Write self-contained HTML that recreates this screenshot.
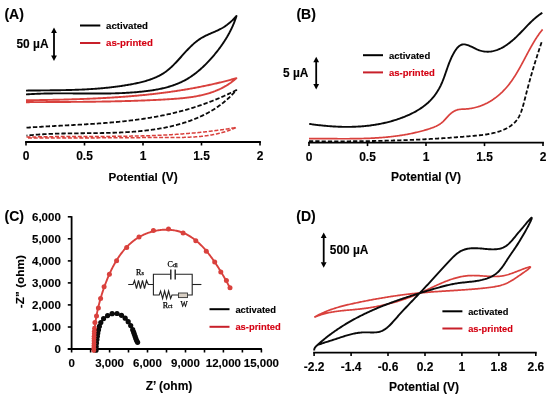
<!DOCTYPE html>
<html><head><meta charset="utf-8"><style>
html,body{margin:0;padding:0;background:#fff;}
body{width:550px;height:398px;overflow:hidden;font-family:"Liberation Sans",sans-serif;}
svg{display:block;will-change:transform;}
</style></head><body>
<svg width="550" height="398" viewBox="0 0 550 398">
<rect width="550" height="398" fill="#fff"/>
<path d="M26.00,90.60 L27.02,90.58 L28.04,90.57 L29.07,90.56 L30.09,90.54 L31.11,90.53 L32.12,90.52 L33.14,90.50 L34.16,90.49 L35.18,90.48 L36.19,90.47 L37.21,90.46 L38.22,90.45 L39.24,90.44 L40.25,90.43 L41.26,90.42 L42.27,90.41 L43.29,90.40 L44.30,90.39 L45.31,90.38 L46.32,90.37 L47.33,90.36 L48.34,90.35 L49.34,90.34 L50.35,90.32 L51.36,90.31 L52.36,90.30 L53.37,90.29 L54.38,90.28 L55.38,90.26 L56.39,90.25 L57.39,90.23 L58.39,90.22 L59.40,90.20 L60.40,90.19 L61.40,90.17 L62.41,90.15 L63.41,90.13 L64.41,90.11 L65.41,90.09 L66.41,90.07 L67.41,90.04 L68.41,90.02 L69.41,89.99 L70.41,89.97 L71.41,89.94 L72.41,89.91 L73.41,89.88 L74.41,89.85 L75.41,89.81 L76.41,89.78 L77.41,89.74 L78.41,89.70 L79.41,89.66 L80.40,89.62 L81.40,89.58 L82.40,89.53 L83.40,89.49 L84.39,89.44 L85.39,89.39 L86.39,89.34 L87.39,89.28 L88.39,89.23 L89.38,89.17 L90.38,89.11 L91.38,89.05 L92.38,88.98 L93.37,88.91 L94.37,88.84 L95.37,88.77 L96.37,88.70 L97.36,88.62 L98.36,88.54 L99.36,88.46 L100.36,88.38 L101.36,88.29 L102.35,88.20 L103.35,88.11 L104.35,88.01 L105.35,87.92 L106.35,87.82 L107.35,87.71 L108.35,87.61 L109.35,87.50 L110.35,87.38 L111.35,87.27 L112.35,87.15 L113.35,87.03 L114.35,86.90 L115.35,86.78 L116.35,86.64 L117.36,86.51 L118.36,86.37 L119.36,86.23 L120.37,86.09 L121.37,85.94 L122.37,85.79 L123.38,85.63 L124.38,85.47 L125.39,85.31 L126.39,85.14 L127.40,84.97 L128.41,84.80 L129.41,84.62 L130.42,84.44 L131.43,84.25 L132.44,84.06 L133.45,83.86 L134.46,83.66 L135.46,83.46 L136.47,83.25 L137.47,83.03 L138.48,82.81 L139.48,82.58 L140.48,82.34 L141.48,82.10 L142.47,81.85 L143.46,81.59 L144.45,81.32 L145.43,81.04 L146.41,80.76 L147.38,80.46 L148.35,80.15 L149.31,79.84 L150.27,79.51 L151.22,79.17 L152.16,78.82 L153.10,78.46 L154.03,78.09 L154.96,77.70 L155.87,77.31 L156.78,76.90 L157.68,76.47 L158.57,76.03 L159.45,75.58 L160.33,75.11 L161.19,74.63 L162.04,74.13 L162.88,73.62 L163.71,73.09 L164.53,72.54 L165.34,71.98 L166.14,71.40 L166.93,70.81 L167.70,70.20 L168.47,69.58 L169.23,68.94 L169.98,68.29 L170.72,67.63 L171.45,66.96 L172.18,66.27 L172.90,65.58 L173.61,64.88 L174.32,64.17 L175.02,63.45 L175.72,62.72 L176.41,61.99 L177.10,61.25 L177.79,60.51 L178.47,59.76 L179.15,59.01 L179.83,58.26 L180.51,57.50 L181.19,56.75 L181.86,55.99 L182.54,55.23 L183.22,54.47 L183.90,53.72 L184.58,52.96 L185.26,52.21 L185.94,51.46 L186.63,50.72 L187.32,49.98 L188.02,49.25 L188.72,48.52 L189.42,47.80 L190.13,47.09 L190.85,46.38 L191.57,45.69 L192.30,45.00 L193.04,44.33 L193.79,43.66 L194.54,43.01 L195.30,42.37 L196.08,41.74 L196.86,41.13 L197.65,40.54 L198.46,39.95 L199.27,39.39 L200.10,38.84 L200.94,38.31 L201.79,37.79 L202.65,37.30 L203.53,36.82 L204.42,36.35 L205.31,35.90 L206.22,35.46 L207.13,35.03 L208.05,34.61 L208.97,34.20 L209.90,33.79 L210.83,33.39 L211.76,32.98 L212.70,32.58 L213.63,32.18 L214.56,31.77 L215.49,31.36 L216.42,30.95 L217.34,30.52 L218.25,30.09 L219.16,29.65 L220.07,29.19 L220.96,28.72 L221.84,28.24 L222.71,27.74 L223.57,27.22 L224.42,26.68 L225.25,26.13 L226.08,25.55 L226.89,24.97 L227.69,24.36 L228.48,23.74 L229.26,23.10 L230.03,22.45 L230.79,21.79 L231.54,21.11 L232.28,20.42 L233.00,19.71 L233.72,18.99 L234.43,18.26 L235.13,17.52 L235.82,16.76 L236.50,16.00 L236.19,16.95 L235.87,17.90 L235.55,18.85 L235.21,19.79 L234.86,20.73 L234.51,21.66 L234.14,22.59 L233.76,23.52 L233.38,24.44 L232.98,25.36 L232.58,26.27 L232.17,27.18 L231.74,28.09 L231.31,28.99 L230.87,29.89 L230.43,30.78 L229.97,31.67 L229.51,32.56 L229.03,33.44 L228.55,34.32 L228.06,35.19 L227.56,36.06 L227.06,36.93 L226.54,37.79 L226.02,38.65 L225.49,39.51 L224.96,40.36 L224.41,41.21 L223.86,42.05 L223.31,42.89 L222.74,43.73 L222.17,44.56 L221.59,45.39 L221.00,46.22 L220.41,47.04 L219.81,47.85 L219.21,48.67 L218.59,49.48 L217.98,50.28 L217.35,51.09 L216.72,51.88 L216.09,52.68 L215.44,53.47 L214.79,54.26 L214.14,55.04 L213.48,55.82 L212.82,56.60 L212.15,57.37 L211.47,58.14 L210.79,58.90 L210.11,59.66 L209.41,60.42 L208.72,61.17 L208.01,61.91 L207.31,62.65 L206.59,63.38 L205.87,64.11 L205.15,64.83 L204.42,65.55 L203.68,66.25 L202.94,66.95 L202.20,67.65 L201.44,68.33 L200.69,69.01 L199.92,69.68 L199.15,70.34 L198.38,71.00 L197.60,71.64 L196.81,72.28 L196.02,72.90 L195.22,73.52 L194.42,74.13 L193.61,74.72 L192.80,75.31 L191.97,75.89 L191.15,76.45 L190.32,77.01 L189.48,77.55 L188.63,78.08 L187.78,78.60 L186.93,79.11 L186.06,79.60 L185.20,80.08 L184.32,80.55 L183.44,81.01 L182.56,81.45 L181.67,81.89 L180.77,82.31 L179.87,82.71 L178.96,83.11 L178.05,83.50 L177.13,83.87 L176.21,84.23 L175.28,84.59 L174.35,84.93 L173.42,85.26 L172.48,85.58 L171.54,85.89 L170.59,86.19 L169.64,86.49 L168.68,86.77 L167.72,87.04 L166.76,87.31 L165.79,87.56 L164.82,87.81 L163.85,88.05 L162.88,88.28 L161.90,88.50 L160.92,88.72 L159.94,88.93 L158.95,89.13 L157.96,89.32 L156.97,89.51 L155.98,89.69 L154.99,89.86 L153.99,90.03 L152.99,90.19 L151.99,90.34 L150.99,90.49 L149.99,90.64 L148.99,90.77 L147.98,90.91 L146.98,91.04 L145.97,91.16 L144.97,91.28 L143.96,91.40 L142.95,91.51 L141.95,91.61 L140.94,91.72 L139.93,91.82 L138.92,91.91 L137.92,92.01 L136.91,92.10 L135.90,92.18 L134.89,92.27 L133.88,92.35 L132.88,92.42 L131.87,92.50 L130.86,92.57 L129.85,92.64 L128.84,92.70 L127.83,92.76 L126.83,92.82 L125.82,92.88 L124.81,92.93 L123.80,92.98 L122.79,93.03 L121.78,93.08 L120.77,93.12 L119.76,93.16 L118.76,93.20 L117.75,93.24 L116.74,93.27 L115.73,93.30 L114.72,93.33 L113.71,93.36 L112.70,93.38 L111.69,93.41 L110.68,93.43 L109.67,93.45 L108.66,93.47 L107.65,93.48 L106.65,93.50 L105.64,93.51 L104.63,93.52 L103.62,93.53 L102.61,93.54 L101.60,93.55 L100.59,93.56 L99.58,93.56 L98.57,93.56 L97.56,93.57 L96.55,93.57 L95.54,93.57 L94.53,93.57 L93.52,93.57 L92.51,93.56 L91.50,93.56 L90.49,93.56 L89.48,93.55 L88.47,93.55 L87.47,93.54 L86.46,93.53 L85.45,93.53 L84.44,93.52 L83.43,93.51 L82.42,93.51 L81.41,93.50 L80.40,93.49 L79.39,93.48 L78.38,93.47 L77.37,93.46 L76.36,93.46 L75.35,93.45 L74.35,93.44 L73.34,93.43 L72.33,93.42 L71.32,93.42 L70.31,93.41 L69.30,93.40 L68.29,93.40 L67.28,93.39 L66.27,93.39 L65.27,93.39 L64.26,93.38 L63.25,93.38 L62.24,93.38 L61.23,93.38 L60.22,93.38 L59.22,93.38 L58.21,93.38 L57.20,93.39 L56.19,93.39 L55.18,93.40 L54.18,93.41 L53.17,93.42 L52.16,93.43 L51.15,93.44 L50.15,93.45 L49.14,93.47 L48.13,93.48 L47.12,93.50 L46.12,93.52 L45.11,93.55 L44.10,93.57 L43.10,93.60 L42.09,93.62 L41.08,93.66 L40.08,93.69 L39.07,93.72 L38.06,93.76 L37.06,93.80 L36.05,93.84 L35.05,93.88 L34.04,93.93 L33.04,93.98 L32.03,94.03 L31.02,94.09 L30.02,94.14 L29.01,94.20 L28.01,94.27 L27.00,94.33 L26.00,94.40" fill="none" stroke="#0a0a0a" stroke-width="1.9" stroke-linejoin="round"/>
<path d="M26.00,100.30 L27.00,100.28 L28.00,100.27 L29.01,100.25 L30.01,100.24 L31.01,100.22 L32.01,100.20 L33.02,100.19 L34.02,100.17 L35.02,100.16 L36.03,100.14 L37.03,100.12 L38.03,100.10 L39.04,100.09 L40.04,100.07 L41.05,100.05 L42.05,100.03 L43.05,100.02 L44.06,100.00 L45.06,99.98 L46.07,99.96 L47.07,99.94 L48.08,99.92 L49.08,99.90 L50.09,99.88 L51.09,99.86 L52.10,99.84 L53.10,99.82 L54.11,99.79 L55.11,99.77 L56.12,99.75 L57.12,99.73 L58.13,99.70 L59.13,99.68 L60.14,99.65 L61.15,99.63 L62.15,99.60 L63.16,99.58 L64.16,99.55 L65.17,99.53 L66.17,99.50 L67.18,99.47 L68.19,99.44 L69.19,99.41 L70.20,99.38 L71.21,99.35 L72.21,99.32 L73.22,99.29 L74.22,99.26 L75.23,99.23 L76.24,99.20 L77.24,99.16 L78.25,99.13 L79.26,99.09 L80.26,99.06 L81.27,99.02 L82.27,98.99 L83.28,98.95 L84.29,98.91 L85.29,98.87 L86.30,98.83 L87.31,98.79 L88.31,98.75 L89.32,98.71 L90.33,98.67 L91.33,98.62 L92.34,98.58 L93.34,98.53 L94.35,98.49 L95.36,98.44 L96.36,98.39 L97.37,98.35 L98.37,98.30 L99.38,98.25 L100.39,98.20 L101.39,98.14 L102.40,98.09 L103.40,98.04 L104.41,97.98 L105.41,97.93 L106.42,97.87 L107.42,97.81 L108.43,97.76 L109.44,97.70 L110.44,97.64 L111.45,97.58 L112.45,97.51 L113.46,97.45 L114.46,97.39 L115.46,97.32 L116.47,97.25 L117.47,97.19 L118.48,97.12 L119.48,97.05 L120.49,96.98 L121.49,96.91 L122.49,96.83 L123.50,96.76 L124.50,96.68 L125.51,96.61 L126.51,96.53 L127.51,96.45 L128.52,96.37 L129.52,96.29 L130.52,96.21 L131.52,96.13 L132.53,96.04 L133.53,95.96 L134.53,95.87 L135.53,95.78 L136.54,95.69 L137.54,95.60 L138.54,95.51 L139.54,95.41 L140.54,95.32 L141.54,95.22 L142.54,95.13 L143.54,95.03 L144.55,94.93 L145.55,94.83 L146.55,94.72 L147.55,94.62 L148.55,94.51 L149.55,94.41 L150.55,94.30 L151.54,94.19 L152.54,94.08 L153.54,93.96 L154.54,93.85 L155.54,93.73 L156.54,93.62 L157.54,93.50 L158.53,93.38 L159.53,93.26 L160.53,93.13 L161.53,93.01 L162.52,92.88 L163.52,92.75 L164.51,92.63 L165.51,92.49 L166.51,92.36 L167.50,92.23 L168.50,92.09 L169.49,91.95 L170.49,91.82 L171.48,91.67 L172.48,91.53 L173.47,91.39 L174.46,91.24 L175.46,91.09 L176.45,90.95 L177.44,90.79 L178.44,90.64 L179.43,90.49 L180.42,90.33 L181.41,90.17 L182.40,90.01 L183.40,89.85 L184.39,89.69 L185.38,89.53 L186.37,89.36 L187.36,89.19 L188.35,89.02 L189.34,88.85 L190.33,88.67 L191.31,88.50 L192.30,88.32 L193.29,88.14 L194.28,87.96 L195.27,87.77 L196.25,87.59 L197.24,87.40 L198.23,87.21 L199.21,87.02 L200.20,86.83 L201.18,86.63 L202.17,86.44 L203.15,86.24 L204.14,86.04 L205.12,85.83 L206.11,85.63 L207.09,85.42 L208.07,85.21 L209.05,85.00 L210.04,84.79 L211.02,84.57 L212.00,84.35 L212.98,84.13 L213.96,83.91 L214.94,83.69 L215.92,83.46 L216.90,83.23 L217.88,83.00 L218.86,82.77 L219.84,82.54 L220.81,82.30 L221.79,82.06 L222.77,81.82 L223.74,81.57 L224.72,81.33 L225.70,81.08 L226.67,80.83 L227.65,80.58 L228.62,80.32 L229.59,80.07 L230.57,79.81 L231.54,79.54 L232.51,79.28 L233.49,79.01 L234.46,78.75 L235.43,78.47 L236.40,78.20 L235.62,78.89 L234.84,79.56 L234.05,80.21 L233.25,80.85 L232.45,81.47 L231.63,82.08 L230.82,82.68 L229.99,83.26 L229.17,83.82 L228.33,84.38 L227.49,84.91 L226.64,85.44 L225.79,85.95 L224.93,86.44 L224.07,86.93 L223.20,87.40 L222.32,87.86 L221.44,88.30 L220.56,88.73 L219.67,89.16 L218.78,89.56 L217.88,89.96 L216.97,90.35 L216.06,90.72 L215.15,91.09 L214.23,91.44 L213.31,91.78 L212.38,92.11 L211.45,92.43 L210.52,92.74 L209.58,93.04 L208.64,93.33 L207.69,93.61 L206.74,93.89 L205.79,94.15 L204.83,94.40 L203.87,94.65 L202.91,94.88 L201.94,95.11 L200.97,95.33 L200.00,95.54 L199.02,95.75 L198.04,95.94 L197.06,96.13 L196.08,96.31 L195.09,96.49 L194.10,96.66 L193.11,96.82 L192.12,96.97 L191.12,97.12 L190.12,97.26 L189.12,97.40 L188.12,97.53 L187.12,97.66 L186.11,97.78 L185.11,97.90 L184.10,98.01 L183.09,98.11 L182.08,98.22 L181.07,98.31 L180.06,98.41 L179.04,98.50 L178.03,98.58 L177.01,98.67 L176.00,98.75 L174.98,98.82 L173.96,98.90 L172.95,98.97 L171.93,99.04 L170.91,99.10 L169.89,99.17 L168.87,99.23 L167.86,99.29 L166.84,99.35 L165.82,99.41 L164.80,99.46 L163.79,99.52 L162.77,99.58 L161.76,99.63 L160.74,99.68 L159.72,99.74 L158.71,99.79 L157.70,99.84 L156.68,99.89 L155.67,99.94 L154.66,99.99 L153.64,100.04 L152.63,100.08 L151.62,100.13 L150.61,100.17 L149.60,100.22 L148.59,100.26 L147.58,100.31 L146.57,100.35 L145.56,100.39 L144.55,100.43 L143.54,100.47 L142.53,100.51 L141.52,100.55 L140.51,100.59 L139.50,100.62 L138.50,100.66 L137.49,100.70 L136.48,100.73 L135.47,100.76 L134.47,100.80 L133.46,100.83 L132.46,100.86 L131.45,100.90 L130.44,100.93 L129.44,100.96 L128.43,100.99 L127.43,101.02 L126.43,101.05 L125.42,101.07 L124.42,101.10 L123.41,101.13 L122.41,101.15 L121.41,101.18 L120.40,101.20 L119.40,101.23 L118.40,101.25 L117.39,101.28 L116.39,101.30 L115.39,101.32 L114.38,101.34 L113.38,101.37 L112.38,101.39 L111.38,101.41 L110.38,101.43 L109.37,101.45 L108.37,101.47 L107.37,101.49 L106.37,101.50 L105.37,101.52 L104.37,101.54 L103.36,101.56 L102.36,101.57 L101.36,101.59 L100.36,101.60 L99.36,101.62 L98.36,101.63 L97.36,101.65 L96.36,101.66 L95.36,101.68 L94.36,101.69 L93.35,101.70 L92.35,101.72 L91.35,101.73 L90.35,101.74 L89.35,101.75 L88.35,101.76 L87.35,101.77 L86.35,101.79 L85.35,101.80 L84.35,101.81 L83.34,101.82 L82.34,101.83 L81.34,101.84 L80.34,101.85 L79.34,101.85 L78.34,101.86 L77.34,101.87 L76.33,101.88 L75.33,101.89 L74.33,101.90 L73.33,101.90 L72.33,101.91 L71.33,101.92 L70.32,101.93 L69.32,101.93 L68.32,101.94 L67.32,101.95 L66.31,101.95 L65.31,101.96 L64.31,101.97 L63.30,101.97 L62.30,101.98 L61.30,101.99 L60.29,101.99 L59.29,102.00 L58.28,102.00 L57.28,102.01 L56.27,102.01 L55.27,102.02 L54.26,102.03 L53.26,102.03 L52.25,102.04 L51.25,102.04 L50.24,102.05 L49.23,102.05 L48.23,102.06 L47.22,102.07 L46.21,102.07 L45.21,102.08 L44.20,102.08 L43.19,102.09 L42.18,102.09 L41.17,102.10 L40.16,102.11 L39.15,102.11 L38.14,102.12 L37.13,102.12 L36.12,102.13 L35.11,102.14 L34.10,102.14 L33.09,102.15 L32.08,102.16 L31.07,102.16 L30.05,102.17 L29.04,102.18 L28.03,102.18 L27.01,102.19 L26.00,102.20" fill="none" stroke="#d9413d" stroke-width="1.9" stroke-linejoin="round"/>
<path d="M26.50,127.70 L27.50,127.63 L28.49,127.56 L29.49,127.49 L30.48,127.42 L31.48,127.35 L32.48,127.29 L33.47,127.22 L34.47,127.16 L35.47,127.09 L36.47,127.03 L37.47,126.97 L38.47,126.91 L39.47,126.85 L40.47,126.79 L41.47,126.73 L42.47,126.67 L43.47,126.61 L44.47,126.55 L45.47,126.50 L46.47,126.44 L47.48,126.38 L48.48,126.33 L49.48,126.27 L50.48,126.22 L51.49,126.16 L52.49,126.11 L53.49,126.06 L54.50,126.00 L55.50,125.95 L56.51,125.90 L57.51,125.84 L58.52,125.79 L59.52,125.74 L60.53,125.68 L61.53,125.63 L62.54,125.58 L63.54,125.53 L64.55,125.47 L65.55,125.42 L66.56,125.37 L67.56,125.32 L68.57,125.26 L69.58,125.21 L70.58,125.16 L71.59,125.10 L72.59,125.05 L73.60,125.00 L74.61,124.94 L75.61,124.89 L76.62,124.83 L77.63,124.78 L78.63,124.72 L79.64,124.66 L80.65,124.61 L81.65,124.55 L82.66,124.49 L83.67,124.43 L84.67,124.37 L85.68,124.31 L86.69,124.25 L87.69,124.19 L88.70,124.13 L89.71,124.07 L90.71,124.00 L91.72,123.94 L92.73,123.87 L93.73,123.81 L94.74,123.74 L95.74,123.67 L96.75,123.60 L97.75,123.53 L98.76,123.46 L99.77,123.39 L100.77,123.32 L101.78,123.24 L102.78,123.17 L103.79,123.09 L104.79,123.01 L105.80,122.93 L106.80,122.85 L107.80,122.77 L108.81,122.69 L109.81,122.61 L110.81,122.52 L111.82,122.43 L112.82,122.35 L113.82,122.26 L114.83,122.17 L115.83,122.07 L116.83,121.98 L117.83,121.88 L118.83,121.79 L119.83,121.69 L120.83,121.59 L121.83,121.48 L122.83,121.38 L123.83,121.27 L124.83,121.17 L125.83,121.06 L126.83,120.95 L127.83,120.83 L128.83,120.72 L129.83,120.60 L130.82,120.48 L131.82,120.36 L132.82,120.24 L133.81,120.11 L134.81,119.99 L135.80,119.86 L136.80,119.73 L137.79,119.59 L138.79,119.46 L139.78,119.32 L140.77,119.18 L141.77,119.04 L142.76,118.89 L143.75,118.75 L144.74,118.60 L145.73,118.44 L146.72,118.29 L147.71,118.13 L148.70,117.98 L149.69,117.81 L150.68,117.65 L151.67,117.48 L152.65,117.31 L153.64,117.14 L154.62,116.97 L155.61,116.79 L156.59,116.61 L157.58,116.43 L158.56,116.24 L159.54,116.06 L160.53,115.86 L161.51,115.67 L162.49,115.47 L163.47,115.27 L164.45,115.07 L165.43,114.87 L166.41,114.66 L167.39,114.45 L168.36,114.23 L169.34,114.01 L170.31,113.79 L171.29,113.57 L172.26,113.34 L173.24,113.11 L174.21,112.88 L175.18,112.64 L176.15,112.40 L177.12,112.16 L178.09,111.91 L179.06,111.67 L180.03,111.41 L181.00,111.16 L181.97,110.90 L182.93,110.64 L183.90,110.37 L184.86,110.10 L185.82,109.83 L186.79,109.56 L187.75,109.28 L188.71,109.00 L189.67,108.71 L190.63,108.42 L191.59,108.13 L192.54,107.84 L193.50,107.54 L194.46,107.24 L195.41,106.93 L196.37,106.63 L197.32,106.32 L198.27,106.00 L199.22,105.68 L200.17,105.36 L201.12,105.04 L202.07,104.71 L203.02,104.38 L203.96,104.04 L204.91,103.70 L205.85,103.36 L206.80,103.02 L207.74,102.67 L208.68,102.32 L209.62,101.96 L210.56,101.60 L211.50,101.24 L212.43,100.87 L213.37,100.50 L214.30,100.13 L215.24,99.75 L216.17,99.37 L217.10,98.99 L218.03,98.60 L218.96,98.21 L219.89,97.82 L220.82,97.42 L221.74,97.02 L222.67,96.61 L223.59,96.20 L224.52,95.79 L225.44,95.37 L226.36,94.95 L227.28,94.53 L228.19,94.10 L229.11,93.67 L230.03,93.24 L230.94,92.80 L231.85,92.36 L232.77,91.92 L233.68,91.47 L234.59,91.01 L235.49,90.56 L236.40,90.10 L235.71,90.89 L235.01,91.67 L234.30,92.44 L233.59,93.20 L232.87,93.95 L232.15,94.69 L231.42,95.42 L230.69,96.14 L229.95,96.85 L229.20,97.56 L228.45,98.25 L227.70,98.93 L226.94,99.61 L226.17,100.27 L225.40,100.93 L224.62,101.57 L223.84,102.21 L223.05,102.84 L222.26,103.46 L221.46,104.07 L220.66,104.67 L219.86,105.27 L219.04,105.85 L218.23,106.43 L217.41,107.00 L216.58,107.56 L215.76,108.11 L214.92,108.65 L214.08,109.19 L213.24,109.71 L212.40,110.23 L211.55,110.74 L210.69,111.25 L209.83,111.74 L208.97,112.23 L208.10,112.71 L207.23,113.18 L206.36,113.64 L205.48,114.10 L204.60,114.55 L203.72,114.99 L202.83,115.43 L201.94,115.85 L201.04,116.27 L200.14,116.69 L199.24,117.09 L198.34,117.49 L197.43,117.88 L196.52,118.27 L195.60,118.65 L194.69,119.02 L193.77,119.38 L192.84,119.74 L191.92,120.09 L190.99,120.44 L190.06,120.78 L189.12,121.11 L188.19,121.43 L187.25,121.75 L186.31,122.07 L185.36,122.38 L184.42,122.68 L183.47,122.97 L182.52,123.27 L181.57,123.55 L180.61,123.83 L179.66,124.10 L178.70,124.37 L177.74,124.63 L176.78,124.89 L175.81,125.14 L174.85,125.38 L173.88,125.62 L172.91,125.86 L171.94,126.09 L170.97,126.32 L170.00,126.54 L169.02,126.75 L168.05,126.96 L167.07,127.17 L166.09,127.37 L165.11,127.56 L164.13,127.76 L163.15,127.94 L162.17,128.13 L161.18,128.30 L160.20,128.48 L159.21,128.65 L158.22,128.81 L157.24,128.97 L156.25,129.13 L155.26,129.28 L154.26,129.43 L153.27,129.58 L152.28,129.72 L151.28,129.85 L150.29,129.99 L149.29,130.12 L148.30,130.24 L147.30,130.36 L146.30,130.48 L145.30,130.60 L144.30,130.71 L143.30,130.82 L142.30,130.92 L141.29,131.02 L140.29,131.12 L139.28,131.22 L138.28,131.31 L137.27,131.40 L136.27,131.48 L135.26,131.57 L134.25,131.65 L133.24,131.72 L132.23,131.80 L131.22,131.87 L130.21,131.94 L129.20,132.00 L128.19,132.07 L127.18,132.13 L126.17,132.19 L125.16,132.25 L124.14,132.30 L123.13,132.35 L122.11,132.40 L121.10,132.45 L120.08,132.49 L119.07,132.54 L118.05,132.58 L117.04,132.62 L116.02,132.66 L115.00,132.69 L113.99,132.73 L112.97,132.76 L111.95,132.79 L110.94,132.82 L109.92,132.85 L108.90,132.87 L107.88,132.90 L106.86,132.92 L105.84,132.95 L104.83,132.97 L103.81,132.99 L102.79,133.01 L101.77,133.02 L100.75,133.04 L99.73,133.06 L98.71,133.07 L97.69,133.09 L96.67,133.10 L95.66,133.11 L94.64,133.13 L93.62,133.14 L92.60,133.15 L91.58,133.16 L90.56,133.17 L89.54,133.18 L88.53,133.19 L87.51,133.20 L86.49,133.21 L85.47,133.22 L84.46,133.22 L83.44,133.23 L82.42,133.24 L81.41,133.25 L80.39,133.26 L79.37,133.27 L78.36,133.28 L77.34,133.29 L76.33,133.30 L75.31,133.31 L74.30,133.32 L73.29,133.34 L72.28,133.35 L71.26,133.36 L70.25,133.38 L69.24,133.39 L68.23,133.41 L67.22,133.42 L66.21,133.44 L65.20,133.46 L64.19,133.48 L63.18,133.50 L62.18,133.52 L61.17,133.55 L60.16,133.57 L59.16,133.60 L58.15,133.62 L57.15,133.65 L56.15,133.68 L55.15,133.71 L54.14,133.75 L53.14,133.78 L52.14,133.82 L51.14,133.86 L50.15,133.90 L49.15,133.94 L48.15,133.99 L47.16,134.04 L46.16,134.08 L45.17,134.14 L44.18,134.19 L43.19,134.25 L42.20,134.30 L41.21,134.36 L40.22,134.43 L39.23,134.49 L38.24,134.56 L37.26,134.63 L36.28,134.70 L35.29,134.78 L34.31,134.86 L33.33,134.94 L32.35,135.03 L31.37,135.11 L30.40,135.21 L29.42,135.30 L28.45,135.40 L27.47,135.50 L26.50,135.60" fill="none" stroke="#0a0a0a" stroke-width="1.8" stroke-linejoin="round" stroke-dasharray="4.4,2"/>
<path d="M26.50,137.10 L27.50,137.07 L28.51,137.05 L29.51,137.02 L30.51,137.00 L31.52,136.97 L32.52,136.95 L33.52,136.93 L34.53,136.91 L35.53,136.89 L36.54,136.87 L37.54,136.85 L38.54,136.83 L39.55,136.81 L40.55,136.80 L41.56,136.78 L42.56,136.76 L43.57,136.75 L44.57,136.73 L45.58,136.72 L46.58,136.71 L47.59,136.69 L48.59,136.68 L49.60,136.67 L50.61,136.66 L51.61,136.65 L52.62,136.64 L53.62,136.63 L54.63,136.62 L55.64,136.61 L56.64,136.60 L57.65,136.60 L58.65,136.59 L59.66,136.58 L60.67,136.57 L61.67,136.57 L62.68,136.56 L63.69,136.56 L64.69,136.55 L65.70,136.55 L66.71,136.54 L67.72,136.54 L68.72,136.53 L69.73,136.53 L70.74,136.52 L71.74,136.52 L72.75,136.52 L73.76,136.51 L74.77,136.51 L75.77,136.51 L76.78,136.50 L77.79,136.50 L78.80,136.50 L79.81,136.50 L80.81,136.49 L81.82,136.49 L82.83,136.49 L83.84,136.49 L84.84,136.48 L85.85,136.48 L86.86,136.48 L87.87,136.48 L88.88,136.47 L89.89,136.47 L90.89,136.47 L91.90,136.47 L92.91,136.46 L93.92,136.46 L94.93,136.46 L95.93,136.45 L96.94,136.45 L97.95,136.45 L98.96,136.44 L99.97,136.44 L100.98,136.43 L101.98,136.43 L102.99,136.43 L104.00,136.42 L105.01,136.41 L106.02,136.41 L107.03,136.40 L108.03,136.40 L109.04,136.39 L110.05,136.38 L111.06,136.38 L112.07,136.37 L113.08,136.36 L114.08,136.35 L115.09,136.34 L116.10,136.33 L117.11,136.32 L118.12,136.31 L119.12,136.30 L120.13,136.29 L121.14,136.28 L122.15,136.26 L123.16,136.25 L124.17,136.24 L125.17,136.22 L126.18,136.21 L127.19,136.19 L128.20,136.18 L129.20,136.16 L130.21,136.14 L131.22,136.12 L132.23,136.10 L133.24,136.08 L134.24,136.06 L135.25,136.04 L136.26,136.02 L137.27,136.00 L138.27,135.97 L139.28,135.95 L140.29,135.92 L141.29,135.90 L142.30,135.87 L143.31,135.84 L144.32,135.82 L145.32,135.79 L146.33,135.76 L147.34,135.72 L148.34,135.69 L149.35,135.66 L150.36,135.62 L151.36,135.59 L152.37,135.55 L153.37,135.52 L154.38,135.48 L155.39,135.44 L156.39,135.40 L157.40,135.36 L158.40,135.31 L159.41,135.27 L160.41,135.23 L161.42,135.18 L162.43,135.13 L163.43,135.08 L164.44,135.04 L165.44,134.98 L166.45,134.93 L167.45,134.88 L168.46,134.83 L169.46,134.77 L170.46,134.71 L171.47,134.66 L172.47,134.60 L173.48,134.54 L174.48,134.47 L175.48,134.41 L176.49,134.35 L177.49,134.28 L178.49,134.21 L179.50,134.14 L180.50,134.07 L181.50,134.00 L182.51,133.93 L183.51,133.85 L184.51,133.78 L185.51,133.70 L186.52,133.62 L187.52,133.54 L188.52,133.46 L189.52,133.37 L190.52,133.29 L191.53,133.20 L192.53,133.11 L193.53,133.02 L194.53,132.93 L195.53,132.84 L196.53,132.74 L197.53,132.65 L198.53,132.55 L199.53,132.45 L200.53,132.34 L201.53,132.24 L202.53,132.14 L203.53,132.03 L204.53,131.92 L205.53,131.81 L206.53,131.70 L207.53,131.58 L208.53,131.47 L209.52,131.35 L210.52,131.23 L211.52,131.11 L212.52,130.98 L213.52,130.86 L214.51,130.73 L215.51,130.60 L216.51,130.47 L217.50,130.33 L218.50,130.20 L219.50,130.06 L220.49,129.92 L221.49,129.78 L222.48,129.64 L223.48,129.49 L224.47,129.34 L225.47,129.19 L226.46,129.04 L227.46,128.89 L228.45,128.73 L229.45,128.57 L230.44,128.41 L231.44,128.25 L232.43,128.08 L233.42,127.92 L234.41,127.75 L235.41,127.58 L236.40,127.40 L235.48,127.82 L234.55,128.23 L233.62,128.62 L232.69,129.00 L231.75,129.38 L230.82,129.74 L229.88,130.09 L228.93,130.43 L227.99,130.76 L227.04,131.07 L226.09,131.38 L225.14,131.68 L224.19,131.97 L223.23,132.25 L222.27,132.52 L221.31,132.78 L220.35,133.03 L219.38,133.27 L218.42,133.51 L217.45,133.73 L216.48,133.95 L215.51,134.15 L214.53,134.35 L213.56,134.54 L212.58,134.73 L211.60,134.90 L210.62,135.07 L209.63,135.23 L208.65,135.39 L207.66,135.53 L206.68,135.67 L205.69,135.81 L204.70,135.93 L203.71,136.05 L202.71,136.17 L201.72,136.27 L200.72,136.38 L199.73,136.47 L198.73,136.56 L197.73,136.65 L196.73,136.73 L195.73,136.81 L194.72,136.88 L193.72,136.94 L192.72,137.00 L191.71,137.06 L190.71,137.11 L189.70,137.16 L188.69,137.21 L187.68,137.25 L186.67,137.28 L185.66,137.32 L184.65,137.35 L183.64,137.38 L182.63,137.40 L181.62,137.42 L180.61,137.44 L179.60,137.46 L178.58,137.48 L177.57,137.49 L176.56,137.50 L175.54,137.51 L174.53,137.52 L173.52,137.52 L172.50,137.53 L171.49,137.53 L170.47,137.54 L169.46,137.54 L168.45,137.54 L167.43,137.54 L166.42,137.54 L165.41,137.55 L164.39,137.55 L163.38,137.55 L162.37,137.55 L161.35,137.55 L160.34,137.56 L159.33,137.56 L158.32,137.56 L157.31,137.56 L156.30,137.57 L155.28,137.57 L154.27,137.57 L153.26,137.57 L152.25,137.58 L151.24,137.58 L150.23,137.59 L149.22,137.59 L148.21,137.59 L147.20,137.60 L146.20,137.60 L145.19,137.61 L144.18,137.61 L143.17,137.61 L142.16,137.62 L141.15,137.62 L140.14,137.63 L139.14,137.63 L138.13,137.64 L137.12,137.64 L136.11,137.65 L135.11,137.65 L134.10,137.66 L133.09,137.66 L132.09,137.67 L131.08,137.67 L130.07,137.68 L129.07,137.69 L128.06,137.69 L127.06,137.70 L126.05,137.70 L125.04,137.71 L124.04,137.72 L123.03,137.72 L122.03,137.73 L121.02,137.73 L120.02,137.74 L119.01,137.75 L118.01,137.75 L117.00,137.76 L116.00,137.76 L114.99,137.77 L113.99,137.78 L112.98,137.78 L111.98,137.79 L110.97,137.80 L109.97,137.80 L108.96,137.81 L107.96,137.82 L106.96,137.82 L105.95,137.83 L104.95,137.84 L103.94,137.84 L102.94,137.85 L101.94,137.85 L100.93,137.86 L99.93,137.87 L98.92,137.87 L97.92,137.88 L96.92,137.89 L95.91,137.89 L94.91,137.90 L93.91,137.91 L92.90,137.91 L91.90,137.92 L90.89,137.92 L89.89,137.93 L88.89,137.94 L87.88,137.94 L86.88,137.95 L85.88,137.95 L84.87,137.96 L83.87,137.97 L82.86,137.97 L81.86,137.98 L80.86,137.98 L79.85,137.99 L78.85,137.99 L77.85,138.00 L76.84,138.00 L75.84,138.01 L74.83,138.01 L73.83,138.02 L72.82,138.02 L71.82,138.03 L70.82,138.03 L69.81,138.04 L68.81,138.04 L67.80,138.05 L66.80,138.05 L65.79,138.06 L64.79,138.06 L63.78,138.06 L62.78,138.07 L61.77,138.07 L60.77,138.08 L59.76,138.08 L58.76,138.08 L57.75,138.09 L56.74,138.09 L55.74,138.09 L54.73,138.09 L53.73,138.10 L52.72,138.10 L51.71,138.10 L50.71,138.10 L49.70,138.11 L48.69,138.11 L47.69,138.11 L46.68,138.11 L45.67,138.11 L44.67,138.11 L43.66,138.11 L42.65,138.11 L41.64,138.12 L40.63,138.12 L39.63,138.12 L38.62,138.12 L37.61,138.12 L36.60,138.12 L35.59,138.11 L34.58,138.11 L33.57,138.11 L32.56,138.11 L31.55,138.11 L30.54,138.11 L29.53,138.11 L28.52,138.10 L27.51,138.10 L26.50,138.10" fill="none" stroke="#d9413d" stroke-width="1.5" stroke-linejoin="round" stroke-dasharray="4,1.7"/>
<line x1="25.1" y1="142.0" x2="260.9" y2="142.0" stroke="#000" stroke-width="1.8"/>
<line x1="26.0" y1="142.0" x2="26.0" y2="145.5" stroke="#000" stroke-width="1.6"/>
<line x1="84.5" y1="142.0" x2="84.5" y2="145.5" stroke="#000" stroke-width="1.6"/>
<line x1="143.0" y1="142.0" x2="143.0" y2="145.5" stroke="#000" stroke-width="1.6"/>
<line x1="201.5" y1="142.0" x2="201.5" y2="145.5" stroke="#000" stroke-width="1.6"/>
<line x1="260.0" y1="142.0" x2="260.0" y2="145.5" stroke="#000" stroke-width="1.6"/>
<text x="26.0" y="160.0" font-size="12" text-anchor="middle" font-family="Liberation Sans, sans-serif" font-weight="bold" stroke="currentColor" stroke-width="0.12">0</text>
<text x="84.5" y="160.0" font-size="12" text-anchor="middle" font-family="Liberation Sans, sans-serif" font-weight="bold" stroke="currentColor" stroke-width="0.12">0.5</text>
<text x="143.0" y="160.0" font-size="12" text-anchor="middle" font-family="Liberation Sans, sans-serif" font-weight="bold" stroke="currentColor" stroke-width="0.12">1</text>
<text x="201.5" y="160.0" font-size="12" text-anchor="middle" font-family="Liberation Sans, sans-serif" font-weight="bold" stroke="currentColor" stroke-width="0.12">1.5</text>
<text x="260.0" y="160.0" font-size="12" text-anchor="middle" font-family="Liberation Sans, sans-serif" font-weight="bold" stroke="currentColor" stroke-width="0.12">2</text>
<text x="108.4" y="180.5" font-size="11.7" font-family="Liberation Sans, sans-serif" font-weight="bold" stroke="currentColor" stroke-width="0.12">Potential</text>
<text x="161.8" y="180.5" font-size="11.9" font-family="Liberation Sans, sans-serif" font-weight="bold" stroke="currentColor" stroke-width="0.12">(V)</text>
<text x="14.1" y="18.6" font-size="14" text-anchor="middle" font-family="Liberation Sans, sans-serif" font-weight="bold" stroke="currentColor" stroke-width="0.12">(A)</text>
<line x1="54.0" y1="32.4" x2="54.0" y2="56.1" stroke="#000" stroke-width="1.8"/>
<path d="M54.0,27.5 L51.1,32.9 L56.9,32.9 Z" fill="#000"/>
<path d="M54.0,61.0 L51.1,55.6 L56.9,55.6 Z" fill="#000"/>
<text x="16.5" y="47.5" font-size="11.9" font-family="Liberation Sans, sans-serif" font-weight="bold" stroke="currentColor" stroke-width="0.12">50 µA</text>
<line x1="80.0" y1="25.5" x2="100.3" y2="25.5" stroke="#000" stroke-width="2"/>
<line x1="80.0" y1="43.0" x2="100.3" y2="43.0" stroke="#c8202a" stroke-width="2"/>
<text x="106.0" y="28.8" font-size="9.7" font-family="Liberation Sans, sans-serif" font-weight="bold" stroke="currentColor" stroke-width="0.12">activated</text>
<text x="106.0" y="46.3" font-size="9.7" fill="#d40012" color="#d40012" font-family="Liberation Sans, sans-serif" font-weight="bold" stroke="currentColor" stroke-width="0.12">as-printed</text>
<path d="M309.20,123.90 L310.20,124.04 L311.19,124.18 L312.19,124.32 L313.19,124.46 L314.19,124.59 L315.19,124.72 L316.19,124.84 L317.19,124.96 L318.20,125.08 L319.20,125.20 L320.20,125.31 L321.20,125.42 L322.21,125.53 L323.21,125.63 L324.22,125.73 L325.22,125.82 L326.23,125.91 L327.23,126.00 L328.24,126.08 L329.25,126.16 L330.25,126.24 L331.26,126.31 L332.27,126.38 L333.27,126.44 L334.28,126.50 L335.29,126.56 L336.30,126.61 L337.30,126.66 L338.31,126.70 L339.32,126.74 L340.33,126.77 L341.33,126.80 L342.34,126.83 L343.35,126.85 L344.35,126.86 L345.36,126.88 L346.37,126.88 L347.37,126.88 L348.38,126.88 L349.39,126.87 L350.39,126.86 L351.40,126.84 L352.40,126.81 L353.41,126.78 L354.41,126.75 L355.41,126.71 L356.42,126.67 L357.42,126.62 L358.42,126.56 L359.42,126.50 L360.42,126.43 L361.42,126.36 L362.42,126.28 L363.42,126.20 L364.42,126.11 L365.42,126.01 L366.41,125.91 L367.41,125.80 L368.41,125.69 L369.40,125.57 L370.39,125.45 L371.39,125.31 L372.38,125.18 L373.37,125.03 L374.36,124.88 L375.35,124.72 L376.34,124.56 L377.32,124.39 L378.31,124.21 L379.29,124.03 L380.28,123.84 L381.26,123.64 L382.24,123.44 L383.22,123.23 L384.20,123.01 L385.18,122.79 L386.16,122.56 L387.13,122.32 L388.10,122.07 L389.08,121.82 L390.05,121.56 L391.02,121.30 L391.99,121.02 L392.95,120.74 L393.92,120.45 L394.88,120.15 L395.84,119.85 L396.80,119.54 L397.76,119.22 L398.72,118.89 L399.68,118.56 L400.63,118.21 L401.58,117.86 L402.53,117.50 L403.48,117.14 L404.43,116.76 L405.37,116.38 L406.31,115.99 L407.25,115.59 L408.18,115.18 L409.11,114.76 L410.03,114.33 L410.95,113.89 L411.87,113.44 L412.78,112.99 L413.68,112.52 L414.58,112.04 L415.47,111.56 L416.35,111.06 L417.23,110.55 L418.10,110.03 L418.96,109.50 L419.81,108.96 L420.65,108.41 L421.49,107.85 L422.31,107.28 L423.13,106.69 L423.93,106.09 L424.73,105.48 L425.51,104.86 L426.28,104.23 L427.04,103.58 L427.79,102.92 L428.53,102.25 L429.25,101.56 L429.97,100.86 L430.66,100.15 L431.35,99.43 L432.02,98.69 L432.67,97.94 L433.32,97.17 L433.94,96.39 L434.56,95.60 L435.15,94.80 L435.74,93.98 L436.31,93.16 L436.86,92.32 L437.40,91.48 L437.93,90.62 L438.44,89.76 L438.94,88.89 L439.42,88.01 L439.89,87.12 L440.34,86.23 L440.78,85.33 L441.20,84.42 L441.61,83.51 L442.01,82.60 L442.40,81.68 L442.77,80.75 L443.14,79.83 L443.50,78.89 L443.85,77.96 L444.20,77.02 L444.54,76.08 L444.87,75.13 L445.20,74.18 L445.53,73.23 L445.86,72.28 L446.19,71.32 L446.52,70.37 L446.85,69.41 L447.18,68.45 L447.52,67.49 L447.86,66.53 L448.21,65.57 L448.56,64.61 L448.92,63.65 L449.30,62.69 L449.68,61.73 L450.07,60.78 L450.47,59.82 L450.89,58.87 L451.32,57.91 L451.76,56.96 L452.22,56.02 L452.70,55.07 L453.20,54.13 L453.71,53.19 L454.25,52.26 L454.80,51.34 L455.38,50.44 L455.97,49.58 L456.59,48.75 L457.23,47.97 L457.89,47.25 L458.57,46.59 L459.28,46.00 L460.01,45.48 L460.76,45.06 L461.54,44.72 L462.34,44.49 L463.17,44.37 L464.02,44.35 L464.89,44.42 L465.78,44.57 L466.69,44.80 L467.62,45.09 L468.56,45.44 L469.51,45.84 L470.48,46.27 L471.45,46.73 L472.44,47.22 L473.43,47.71 L474.42,48.20 L475.42,48.68 L476.42,49.15 L477.42,49.59 L478.42,49.99 L479.41,50.35 L480.40,50.66 L481.39,50.94 L482.37,51.17 L483.35,51.35 L484.33,51.50 L485.30,51.61 L486.26,51.67 L487.23,51.71 L488.18,51.70 L489.14,51.66 L490.08,51.58 L491.03,51.47 L491.96,51.32 L492.90,51.14 L493.82,50.93 L494.75,50.69 L495.66,50.43 L496.57,50.13 L497.48,49.80 L498.38,49.45 L499.27,49.07 L500.16,48.67 L501.04,48.24 L501.91,47.79 L502.78,47.32 L503.64,46.83 L504.49,46.32 L505.34,45.79 L506.18,45.24 L507.01,44.67 L507.84,44.08 L508.66,43.48 L509.47,42.87 L510.27,42.24 L511.07,41.60 L511.86,40.95 L512.64,40.28 L513.41,39.61 L514.18,38.93 L514.93,38.24 L515.68,37.54 L516.43,36.84 L517.16,36.12 L517.89,35.41 L518.61,34.69 L519.33,33.96 L520.05,33.23 L520.76,32.50 L521.47,31.76 L522.17,31.03 L522.87,30.29 L523.58,29.55 L524.28,28.81 L524.98,28.08 L525.68,27.34 L526.38,26.61 L527.08,25.88 L527.79,25.15 L528.50,24.43 L529.21,23.71 L529.92,22.99 L530.64,22.28 L531.36,21.58 L532.09,20.89 L532.82,20.20 L533.56,19.52 L534.31,18.86 L535.07,18.20 L535.83,17.55 L536.60,16.91 L537.38,16.28 L538.18,15.67 L538.98,15.07 L539.79,14.48 L540.61,13.90 L541.45,13.34 L542.30,12.80" fill="none" stroke="#0a0a0a" stroke-width="1.9" stroke-linejoin="round"/>
<path d="M309.00,138.60 L309.99,138.60 L310.98,138.59 L311.97,138.59 L312.96,138.59 L313.95,138.59 L314.94,138.59 L315.94,138.60 L316.93,138.60 L317.93,138.60 L318.92,138.61 L319.92,138.61 L320.92,138.62 L321.92,138.62 L322.91,138.63 L323.91,138.63 L324.91,138.64 L325.92,138.65 L326.92,138.66 L327.92,138.66 L328.92,138.67 L329.93,138.68 L330.93,138.68 L331.93,138.69 L332.94,138.70 L333.94,138.70 L334.95,138.71 L335.96,138.72 L336.96,138.72 L337.97,138.73 L338.98,138.73 L339.99,138.73 L340.99,138.74 L342.00,138.74 L343.01,138.74 L344.02,138.74 L345.03,138.74 L346.04,138.74 L347.05,138.73 L348.06,138.73 L349.07,138.73 L350.08,138.72 L351.09,138.71 L352.10,138.70 L353.11,138.69 L354.12,138.68 L355.13,138.67 L356.14,138.65 L357.15,138.64 L358.16,138.62 L359.18,138.60 L360.19,138.57 L361.20,138.55 L362.21,138.52 L363.22,138.50 L364.23,138.46 L365.24,138.43 L366.25,138.40 L367.26,138.36 L368.27,138.32 L369.28,138.28 L370.29,138.23 L371.30,138.19 L372.31,138.14 L373.31,138.09 L374.32,138.03 L375.33,137.97 L376.34,137.91 L377.34,137.85 L378.35,137.78 L379.36,137.71 L380.36,137.64 L381.37,137.57 L382.37,137.49 L383.38,137.40 L384.38,137.32 L385.38,137.23 L386.39,137.14 L387.39,137.04 L388.39,136.94 L389.39,136.84 L390.39,136.73 L391.39,136.62 L392.39,136.51 L393.39,136.39 L394.39,136.27 L395.38,136.14 L396.38,136.01 L397.37,135.87 L398.37,135.74 L399.36,135.59 L400.36,135.45 L401.35,135.29 L402.34,135.14 L403.33,134.98 L404.32,134.81 L405.31,134.64 L406.29,134.47 L407.28,134.29 L408.27,134.10 L409.25,133.91 L410.23,133.72 L411.22,133.52 L412.20,133.32 L413.18,133.11 L414.16,132.89 L415.13,132.67 L416.11,132.45 L417.09,132.22 L418.06,131.98 L419.03,131.74 L420.01,131.50 L420.98,131.24 L421.95,130.99 L422.91,130.72 L423.88,130.45 L424.85,130.18 L425.81,129.90 L426.77,129.61 L427.73,129.32 L428.69,129.02 L429.65,128.71 L430.60,128.39 L431.55,128.06 L432.49,127.72 L433.43,127.36 L434.35,126.99 L435.26,126.59 L436.17,126.18 L437.05,125.73 L437.93,125.27 L438.78,124.77 L439.62,124.25 L440.44,123.69 L441.24,123.10 L442.02,122.48 L442.77,121.81 L443.50,121.11 L444.21,120.38 L444.91,119.63 L445.60,118.86 L446.28,118.09 L446.97,117.32 L447.65,116.56 L448.35,115.82 L449.06,115.11 L449.78,114.42 L450.51,113.76 L451.26,113.14 L452.03,112.55 L452.82,112.00 L453.63,111.49 L454.46,111.03 L455.32,110.62 L456.20,110.25 L457.11,109.94 L458.04,109.69 L459.01,109.50 L460.00,109.35 L461.01,109.25 L462.03,109.18 L463.07,109.12 L464.11,109.07 L465.15,109.03 L466.20,108.97 L467.23,108.88 L468.26,108.78 L469.28,108.66 L470.29,108.52 L471.30,108.36 L472.30,108.19 L473.29,107.99 L474.28,107.77 L475.26,107.54 L476.23,107.29 L477.19,107.02 L478.15,106.73 L479.10,106.42 L480.04,106.10 L480.97,105.76 L481.90,105.41 L482.82,105.03 L483.73,104.65 L484.63,104.24 L485.52,103.82 L486.41,103.39 L487.29,102.94 L488.16,102.47 L489.02,101.99 L489.88,101.50 L490.72,100.99 L491.56,100.47 L492.39,99.93 L493.21,99.38 L494.02,98.82 L494.83,98.24 L495.62,97.66 L496.41,97.06 L497.19,96.44 L497.95,95.82 L498.71,95.18 L499.46,94.54 L500.21,93.88 L500.94,93.21 L501.66,92.53 L502.38,91.84 L503.08,91.13 L503.78,90.42 L504.46,89.70 L505.14,88.97 L505.81,88.23 L506.47,87.48 L507.12,86.73 L507.76,85.96 L508.38,85.19 L509.00,84.41 L509.62,83.62 L510.22,82.82 L510.81,82.01 L511.40,81.20 L511.98,80.39 L512.55,79.56 L513.12,78.73 L513.67,77.89 L514.22,77.05 L514.77,76.21 L515.31,75.35 L515.84,74.50 L516.37,73.63 L516.89,72.77 L517.41,71.90 L517.92,71.02 L518.43,70.14 L518.93,69.26 L519.43,68.38 L519.93,67.49 L520.43,66.60 L520.92,65.70 L521.40,64.81 L521.89,63.91 L522.37,63.01 L522.86,62.11 L523.34,61.21 L523.82,60.31 L524.29,59.41 L524.77,58.51 L525.25,57.60 L525.73,56.70 L526.20,55.80 L526.68,54.90 L527.16,53.99 L527.64,53.09 L528.12,52.20 L528.60,51.30 L529.09,50.40 L529.57,49.51 L530.06,48.62 L530.55,47.73 L531.05,46.85 L531.54,45.97 L532.04,45.09 L532.55,44.22 L533.06,43.35 L533.57,42.48 L534.09,41.62 L534.61,40.76 L535.14,39.91 L535.67,39.06 L536.21,38.22 L536.76,37.39 L537.31,36.56 L537.87,35.73 L538.43,34.92 L539.00,34.11 L539.58,33.30 L540.17,32.51 L540.76,31.72 L541.37,30.94 L541.98,30.17 L542.60,29.40" fill="none" stroke="#d9413d" stroke-width="1.7" stroke-linejoin="round"/>
<path d="M309.00,141.20 L310.02,141.21 L311.03,141.22 L312.05,141.23 L313.07,141.23 L314.08,141.24 L315.10,141.25 L316.11,141.25 L317.12,141.26 L318.14,141.27 L319.15,141.27 L320.16,141.28 L321.18,141.28 L322.19,141.29 L323.20,141.29 L324.21,141.30 L325.22,141.30 L326.23,141.31 L327.24,141.31 L328.25,141.31 L329.26,141.31 L330.27,141.32 L331.28,141.32 L332.29,141.32 L333.29,141.32 L334.30,141.32 L335.31,141.32 L336.32,141.32 L337.32,141.32 L338.33,141.32 L339.33,141.32 L340.34,141.31 L341.35,141.31 L342.35,141.31 L343.36,141.31 L344.36,141.30 L345.36,141.30 L346.37,141.29 L347.37,141.29 L348.37,141.28 L349.38,141.28 L350.38,141.27 L351.38,141.27 L352.39,141.26 L353.39,141.25 L354.39,141.24 L355.39,141.23 L356.39,141.23 L357.39,141.22 L358.40,141.21 L359.40,141.20 L360.40,141.18 L361.40,141.17 L362.40,141.16 L363.40,141.15 L364.40,141.14 L365.40,141.12 L366.40,141.11 L367.40,141.09 L368.40,141.08 L369.40,141.06 L370.40,141.05 L371.40,141.03 L372.39,141.01 L373.39,141.00 L374.39,140.98 L375.39,140.96 L376.39,140.94 L377.39,140.92 L378.39,140.90 L379.38,140.88 L380.38,140.86 L381.38,140.83 L382.38,140.81 L383.38,140.79 L384.38,140.76 L385.37,140.74 L386.37,140.72 L387.37,140.69 L388.37,140.66 L389.37,140.64 L390.36,140.61 L391.36,140.58 L392.36,140.55 L393.36,140.52 L394.36,140.49 L395.35,140.46 L396.35,140.43 L397.35,140.40 L398.35,140.37 L399.35,140.33 L400.34,140.30 L401.34,140.27 L402.34,140.23 L403.34,140.20 L404.34,140.16 L405.34,140.12 L406.34,140.09 L407.33,140.05 L408.33,140.01 L409.33,139.97 L410.33,139.93 L411.33,139.89 L412.33,139.85 L413.33,139.80 L414.33,139.76 L415.33,139.72 L416.33,139.67 L417.33,139.63 L418.33,139.58 L419.33,139.53 L420.33,139.49 L421.33,139.44 L422.33,139.39 L423.33,139.34 L424.33,139.29 L425.34,139.24 L426.34,139.19 L427.34,139.14 L428.34,139.08 L429.34,139.03 L430.35,138.97 L431.35,138.92 L432.35,138.86 L433.36,138.81 L434.36,138.75 L435.36,138.69 L436.37,138.63 L437.37,138.57 L438.38,138.51 L439.38,138.45 L440.39,138.39 L441.39,138.32 L442.40,138.26 L443.41,138.19 L444.41,138.13 L445.42,138.06 L446.43,137.99 L447.43,137.93 L448.44,137.86 L449.45,137.79 L450.46,137.72 L451.47,137.64 L452.48,137.57 L453.49,137.50 L454.50,137.42 L455.51,137.35 L456.52,137.27 L457.53,137.20 L458.54,137.12 L459.55,137.04 L460.56,136.96 L461.58,136.88 L462.59,136.80 L463.60,136.72 L464.62,136.64 L465.63,136.55 L466.65,136.47 L467.66,136.38 L468.68,136.30 L469.69,136.21 L470.71,136.12 L471.73,136.03 L472.75,135.94 L473.76,135.85 L474.78,135.76 L475.80,135.67 L476.82,135.57 L477.84,135.47 L478.85,135.37 L479.87,135.26 L480.88,135.15 L481.90,135.03 L482.91,134.90 L483.92,134.77 L484.92,134.64 L485.93,134.49 L486.93,134.34 L487.93,134.18 L488.92,134.00 L489.91,133.82 L490.90,133.63 L491.88,133.43 L492.86,133.22 L493.83,132.99 L494.80,132.75 L495.76,132.50 L496.72,132.23 L497.67,131.95 L498.61,131.66 L499.55,131.35 L500.48,131.02 L501.41,130.68 L502.33,130.32 L503.24,129.94 L504.14,129.54 L505.03,129.13 L505.92,128.69 L506.79,128.24 L507.65,127.77 L508.49,127.27 L509.32,126.76 L510.14,126.22 L510.93,125.67 L511.71,125.09 L512.47,124.49 L513.20,123.87 L513.91,123.22 L514.60,122.55 L515.27,121.86 L515.91,121.15 L516.52,120.41 L517.10,119.64 L517.65,118.85 L518.17,118.04 L518.67,117.20 L519.14,116.34 L519.58,115.47 L520.00,114.57 L520.40,113.66 L520.79,112.73 L521.15,111.79 L521.49,110.84 L521.82,109.87 L522.14,108.90 L522.44,107.91 L522.74,106.92 L523.02,105.93 L523.30,104.93 L523.57,103.93 L523.83,102.93 L524.09,101.93 L524.35,100.93 L524.61,99.94 L524.87,98.94 L525.12,97.95 L525.38,96.96 L525.63,95.98 L525.89,94.99 L526.14,94.01 L526.40,93.03 L526.65,92.05 L526.90,91.08 L527.16,90.10 L527.41,89.13 L527.67,88.16 L527.93,87.18 L528.19,86.21 L528.44,85.25 L528.70,84.28 L528.97,83.31 L529.23,82.35 L529.49,81.38 L529.76,80.42 L530.03,79.45 L530.30,78.49 L530.57,77.53 L530.84,76.57 L531.12,75.61 L531.39,74.64 L531.67,73.68 L531.95,72.72 L532.23,71.76 L532.52,70.80 L532.80,69.85 L533.09,68.89 L533.37,67.93 L533.66,66.97 L533.95,66.01 L534.25,65.06 L534.54,64.10 L534.84,63.14 L535.13,62.19 L535.43,61.23 L535.73,60.27 L536.03,59.32 L536.33,58.36 L536.64,57.41 L536.94,56.45 L537.25,55.49 L537.55,54.54 L537.86,53.58 L538.17,52.63 L538.48,51.67 L538.79,50.72 L539.11,49.76 L539.42,48.81 L539.74,47.85 L540.05,46.89 L540.37,45.94 L540.69,44.98 L541.01,44.03 L541.33,43.07 L541.65,42.11 L541.98,41.16 L542.30,40.20" fill="none" stroke="#0a0a0a" stroke-width="1.8" stroke-linejoin="round" stroke-dasharray="4.2,2.1"/>
<line x1="308.1" y1="142.6" x2="543.9" y2="142.6" stroke="#000" stroke-width="1.8"/>
<line x1="309.0" y1="142.6" x2="309.0" y2="146.1" stroke="#000" stroke-width="1.6"/>
<line x1="367.5" y1="142.6" x2="367.5" y2="146.1" stroke="#000" stroke-width="1.6"/>
<line x1="426.0" y1="142.6" x2="426.0" y2="146.1" stroke="#000" stroke-width="1.6"/>
<line x1="484.5" y1="142.6" x2="484.5" y2="146.1" stroke="#000" stroke-width="1.6"/>
<line x1="543.0" y1="142.6" x2="543.0" y2="146.1" stroke="#000" stroke-width="1.6"/>
<text x="309.0" y="160.5" font-size="12" text-anchor="middle" font-family="Liberation Sans, sans-serif" font-weight="bold" stroke="currentColor" stroke-width="0.12">0</text>
<text x="367.5" y="160.5" font-size="12" text-anchor="middle" font-family="Liberation Sans, sans-serif" font-weight="bold" stroke="currentColor" stroke-width="0.12">0.5</text>
<text x="426.0" y="160.5" font-size="12" text-anchor="middle" font-family="Liberation Sans, sans-serif" font-weight="bold" stroke="currentColor" stroke-width="0.12">1</text>
<text x="484.5" y="160.5" font-size="12" text-anchor="middle" font-family="Liberation Sans, sans-serif" font-weight="bold" stroke="currentColor" stroke-width="0.12">1.5</text>
<text x="543.0" y="160.5" font-size="12" text-anchor="middle" font-family="Liberation Sans, sans-serif" font-weight="bold" stroke="currentColor" stroke-width="0.12">2</text>
<text x="426" y="180.5" font-size="12" text-anchor="middle" font-family="Liberation Sans, sans-serif" font-weight="bold" stroke="currentColor" stroke-width="0.12">Potential (V)</text>
<text x="306.1" y="19.0" font-size="14" text-anchor="middle" font-family="Liberation Sans, sans-serif" font-weight="bold" stroke="currentColor" stroke-width="0.12">(B)</text>
<line x1="316.2" y1="61.7" x2="316.2" y2="84.6" stroke="#000" stroke-width="1.8"/>
<path d="M316.2,56.8 L313.3,62.2 L319.1,62.2 Z" fill="#000"/>
<path d="M316.2,89.5 L313.3,84.1 L319.1,84.1 Z" fill="#000"/>
<text x="283" y="76.5" font-size="11.9" font-family="Liberation Sans, sans-serif" font-weight="bold" stroke="currentColor" stroke-width="0.12">5 µA</text>
<line x1="363.0" y1="55.2" x2="383.0" y2="55.2" stroke="#000" stroke-width="2"/>
<line x1="363.0" y1="72.4" x2="383.0" y2="72.4" stroke="#c8202a" stroke-width="2"/>
<text x="389.0" y="58.5" font-size="9.5" font-family="Liberation Sans, sans-serif" font-weight="bold" stroke="currentColor" stroke-width="0.12">activated</text>
<text x="389.0" y="75.7" font-size="9.5" fill="#d40012" color="#d40012" font-family="Liberation Sans, sans-serif" font-weight="bold" stroke="currentColor" stroke-width="0.12">as-printed</text>
<line x1="71.6" y1="216.2" x2="71.6" y2="349.9" stroke="#000" stroke-width="1.8"/>
<line x1="67.8" y1="349.0" x2="71.6" y2="349.0" stroke="#000" stroke-width="1.6"/>
<text x="60.8" y="353.1" font-size="11.5" text-anchor="end" font-family="Liberation Sans, sans-serif" font-weight="bold" stroke="currentColor" stroke-width="0.12">0</text>
<line x1="67.8" y1="327.0" x2="71.6" y2="327.0" stroke="#000" stroke-width="1.6"/>
<text x="60.8" y="331.1" font-size="11.5" text-anchor="end" font-family="Liberation Sans, sans-serif" font-weight="bold" stroke="currentColor" stroke-width="0.12">1,000</text>
<line x1="67.8" y1="304.9" x2="71.6" y2="304.9" stroke="#000" stroke-width="1.6"/>
<text x="60.8" y="309.0" font-size="11.5" text-anchor="end" font-family="Liberation Sans, sans-serif" font-weight="bold" stroke="currentColor" stroke-width="0.12">2,000</text>
<line x1="67.8" y1="282.9" x2="71.6" y2="282.9" stroke="#000" stroke-width="1.6"/>
<text x="60.8" y="287.0" font-size="11.5" text-anchor="end" font-family="Liberation Sans, sans-serif" font-weight="bold" stroke="currentColor" stroke-width="0.12">3,000</text>
<line x1="67.8" y1="260.9" x2="71.6" y2="260.9" stroke="#000" stroke-width="1.6"/>
<text x="60.8" y="265.0" font-size="11.5" text-anchor="end" font-family="Liberation Sans, sans-serif" font-weight="bold" stroke="currentColor" stroke-width="0.12">4,000</text>
<line x1="67.8" y1="238.8" x2="71.6" y2="238.8" stroke="#000" stroke-width="1.6"/>
<text x="60.8" y="242.9" font-size="11.5" text-anchor="end" font-family="Liberation Sans, sans-serif" font-weight="bold" stroke="currentColor" stroke-width="0.12">5,000</text>
<line x1="67.8" y1="216.8" x2="71.6" y2="216.8" stroke="#000" stroke-width="1.6"/>
<text x="60.8" y="220.9" font-size="11.5" text-anchor="end" font-family="Liberation Sans, sans-serif" font-weight="bold" stroke="currentColor" stroke-width="0.12">6,000</text>
<line x1="67.8" y1="349.0" x2="261.9" y2="349.0" stroke="#000" stroke-width="1.8"/>
<line x1="71.6" y1="349.0" x2="71.6" y2="352.5" stroke="#000" stroke-width="1.6"/>
<line x1="90.6" y1="349.0" x2="90.6" y2="352.5" stroke="#000" stroke-width="1.6"/>
<line x1="109.6" y1="349.0" x2="109.6" y2="352.5" stroke="#000" stroke-width="1.6"/>
<line x1="128.5" y1="349.0" x2="128.5" y2="352.5" stroke="#000" stroke-width="1.6"/>
<line x1="147.5" y1="349.0" x2="147.5" y2="352.5" stroke="#000" stroke-width="1.6"/>
<line x1="166.5" y1="349.0" x2="166.5" y2="352.5" stroke="#000" stroke-width="1.6"/>
<line x1="185.5" y1="349.0" x2="185.5" y2="352.5" stroke="#000" stroke-width="1.6"/>
<line x1="204.5" y1="349.0" x2="204.5" y2="352.5" stroke="#000" stroke-width="1.6"/>
<line x1="223.4" y1="349.0" x2="223.4" y2="352.5" stroke="#000" stroke-width="1.6"/>
<line x1="242.4" y1="349.0" x2="242.4" y2="352.5" stroke="#000" stroke-width="1.6"/>
<line x1="261.4" y1="349.0" x2="261.4" y2="352.5" stroke="#000" stroke-width="1.6"/>
<text x="71.6" y="367.3" font-size="11.5" text-anchor="middle" font-family="Liberation Sans, sans-serif" font-weight="bold" stroke="currentColor" stroke-width="0.12">0</text>
<text x="109.6" y="367.3" font-size="11.5" text-anchor="middle" font-family="Liberation Sans, sans-serif" font-weight="bold" stroke="currentColor" stroke-width="0.12">3,000</text>
<text x="147.5" y="367.3" font-size="11.5" text-anchor="middle" font-family="Liberation Sans, sans-serif" font-weight="bold" stroke="currentColor" stroke-width="0.12">6,000</text>
<text x="185.5" y="367.3" font-size="11.5" text-anchor="middle" font-family="Liberation Sans, sans-serif" font-weight="bold" stroke="currentColor" stroke-width="0.12">9,000</text>
<text x="223.4" y="367.3" font-size="11.5" text-anchor="middle" font-family="Liberation Sans, sans-serif" font-weight="bold" stroke="currentColor" stroke-width="0.12">12,000</text>
<text x="261.4" y="367.3" font-size="11.5" text-anchor="middle" font-family="Liberation Sans, sans-serif" font-weight="bold" stroke="currentColor" stroke-width="0.12">15,000</text>
<text x="169" y="389.5" font-size="12" text-anchor="middle" font-family="Liberation Sans, sans-serif" font-weight="bold" stroke="currentColor" stroke-width="0.12">Z’ (ohm)</text>
<text transform="translate(23.9,281.6) rotate(-90)" x="0" y="0" font-size="11.8" text-anchor="middle" font-family="Liberation Sans, sans-serif" font-weight="bold" stroke="currentColor" stroke-width="0.12">-Z” (ohm)</text>
<text x="14.2" y="221.1" font-size="14" text-anchor="middle" font-family="Liberation Sans, sans-serif" font-weight="bold" stroke="currentColor" stroke-width="0.12">(C)</text>
<path d="M96.00,350.20 L96.14,349.25 L96.26,348.28 L96.37,347.30 L96.45,346.31 L96.53,345.31 L96.60,344.30 L96.66,343.29 L96.72,342.26 L96.78,341.23 L96.84,340.19 L96.90,339.15 L96.97,338.11 L97.05,337.06 L97.15,336.01 L97.26,334.97 L97.39,333.92 L97.54,332.88 L97.71,331.84 L97.91,330.80 L98.14,329.77 L98.40,328.75 L98.70,327.73 L99.03,326.73 L99.39,325.75 L99.79,324.78 L100.23,323.83 L100.71,322.91 L101.23,322.02 L101.79,321.16 L102.39,320.34 L103.03,319.55 L103.72,318.81 L104.45,318.11 L105.22,317.45 L106.03,316.85 L106.87,316.29 L107.75,315.79 L108.65,315.34 L109.56,314.95 L110.50,314.61 L111.44,314.33 L112.40,314.11 L113.35,313.96 L114.30,313.86 L115.25,313.84 L116.19,313.88 L117.11,313.99 L118.01,314.16 L118.90,314.41 L119.76,314.72 L120.61,315.09 L121.43,315.52 L122.24,316.01 L123.03,316.54 L123.80,317.13 L124.54,317.77 L125.27,318.44 L125.98,319.16 L126.67,319.92 L127.34,320.72 L127.99,321.54 L128.61,322.40 L129.22,323.28 L129.81,324.19 L130.38,325.11 L130.92,326.06 L131.45,327.02 L131.95,327.99 L132.44,328.98 L132.90,329.97 L133.34,330.96 L133.76,331.95 L134.16,332.95 L134.54,333.93 L134.90,334.92 L135.25,335.89 L135.59,336.85 L135.93,337.80 L136.26,338.74 L136.59,339.66 L136.92,340.56 L137.25,341.44 L137.60,342.30" fill="none" stroke="#0a0a0a" stroke-width="1.8" stroke-linejoin="round"/>
<circle cx="96.0" cy="350.2" r="2.6" fill="#0a0a0a"/>
<circle cx="96.2" cy="346.5" r="2.6" fill="#0a0a0a"/>
<circle cx="96.5" cy="343.0" r="2.6" fill="#0a0a0a"/>
<circle cx="96.9" cy="339.5" r="2.6" fill="#0a0a0a"/>
<circle cx="97.3" cy="336.2" r="2.6" fill="#0a0a0a"/>
<circle cx="97.8" cy="333.0" r="2.6" fill="#0a0a0a"/>
<circle cx="98.5" cy="329.8" r="2.6" fill="#0a0a0a"/>
<circle cx="99.4" cy="326.3" r="2.6" fill="#0a0a0a"/>
<circle cx="100.8" cy="322.5" r="2.6" fill="#0a0a0a"/>
<circle cx="103.6" cy="318.6" r="2.6" fill="#0a0a0a"/>
<circle cx="107.6" cy="315.6" r="2.6" fill="#0a0a0a"/>
<circle cx="112.1" cy="313.7" r="2.6" fill="#0a0a0a"/>
<circle cx="117.0" cy="313.5" r="2.6" fill="#0a0a0a"/>
<circle cx="121.5" cy="315.3" r="2.6" fill="#0a0a0a"/>
<circle cx="125.2" cy="318.2" r="2.6" fill="#0a0a0a"/>
<circle cx="128.2" cy="321.7" r="2.6" fill="#0a0a0a"/>
<circle cx="130.7" cy="325.6" r="2.6" fill="#0a0a0a"/>
<circle cx="132.7" cy="329.7" r="2.6" fill="#0a0a0a"/>
<circle cx="133.6" cy="332.0" r="2.6" fill="#0a0a0a"/>
<circle cx="134.3" cy="334.0" r="2.6" fill="#0a0a0a"/>
<circle cx="135.1" cy="336.3" r="2.6" fill="#0a0a0a"/>
<circle cx="135.8" cy="338.5" r="2.6" fill="#0a0a0a"/>
<circle cx="136.6" cy="340.5" r="2.6" fill="#0a0a0a"/>
<circle cx="137.6" cy="342.3" r="2.6" fill="#0a0a0a"/>
<path d="M93.80,350.60 L93.78,349.57 L93.76,348.55 L93.75,347.52 L93.75,346.50 L93.75,345.48 L93.75,344.47 L93.77,343.45 L93.79,342.44 L93.81,341.43 L93.84,340.42 L93.88,339.41 L93.92,338.41 L93.97,337.41 L94.02,336.41 L94.08,335.41 L94.15,334.41 L94.22,333.42 L94.30,332.42 L94.38,331.43 L94.47,330.44 L94.56,329.45 L94.66,328.47 L94.77,327.48 L94.88,326.50 L95.00,325.51 L95.13,324.53 L95.25,323.55 L95.39,322.57 L95.53,321.60 L95.68,320.62 L95.83,319.65 L95.99,318.67 L96.15,317.70 L96.32,316.73 L96.50,315.76 L96.68,314.79 L96.86,313.82 L97.05,312.85 L97.25,311.88 L97.46,310.91 L97.66,309.95 L97.88,308.98 L98.10,308.02 L98.32,307.05 L98.56,306.09 L98.79,305.12 L99.03,304.16 L99.28,303.20 L99.54,302.23 L99.79,301.27 L100.06,300.31 L100.33,299.35 L100.60,298.39 L100.88,297.42 L101.17,296.46 L101.46,295.50 L101.76,294.54 L102.06,293.58 L102.37,292.61 L102.68,291.65 L103.00,290.69 L103.32,289.73 L103.65,288.76 L103.99,287.80 L104.33,286.84 L104.67,285.87 L105.03,284.91 L105.38,283.94 L105.75,282.98 L106.11,282.02 L106.49,281.05 L106.87,280.09 L107.25,279.13 L107.65,278.17 L108.04,277.22 L108.45,276.27 L108.86,275.31 L109.28,274.37 L109.70,273.42 L110.13,272.48 L110.57,271.54 L111.02,270.60 L111.47,269.67 L111.93,268.75 L112.39,267.82 L112.87,266.91 L113.35,265.99 L113.84,265.09 L114.33,264.19 L114.84,263.29 L115.35,262.40 L115.87,261.52 L116.40,260.64 L116.93,259.77 L117.48,258.91 L118.03,258.06 L118.59,257.21 L119.16,256.37 L119.74,255.54 L120.32,254.72 L120.92,253.91 L121.52,253.10 L122.14,252.31 L122.76,251.52 L123.39,250.74 L124.03,249.98 L124.68,249.22 L125.34,248.48 L126.01,247.74 L126.69,247.02 L127.37,246.31 L128.07,245.61 L128.78,244.92 L129.50,244.24 L130.23,243.58 L130.97,242.93 L131.71,242.29 L132.47,241.66 L133.24,241.05 L134.02,240.45 L134.81,239.87 L135.62,239.30 L136.43,238.74 L137.25,238.20 L138.09,237.68 L138.93,237.17 L139.79,236.67 L140.66,236.19 L141.54,235.73 L142.43,235.28 L143.33,234.85 L144.23,234.43 L145.15,234.03 L146.07,233.65 L147.01,233.28 L147.95,232.93 L148.89,232.60 L149.85,232.29 L150.80,231.99 L151.77,231.71 L152.74,231.45 L153.71,231.20 L154.69,230.97 L155.68,230.76 L156.66,230.57 L157.65,230.40 L158.65,230.24 L159.64,230.11 L160.64,229.99 L161.63,229.89 L162.63,229.81 L163.63,229.75 L164.63,229.71 L165.63,229.69 L166.63,229.68 L167.62,229.70 L168.62,229.74 L169.61,229.79 L170.60,229.87 L171.59,229.97 L172.57,230.09 L173.55,230.22 L174.52,230.38 L175.49,230.56 L176.46,230.76 L177.42,230.99 L178.37,231.23 L179.32,231.49 L180.26,231.78 L181.19,232.09 L182.11,232.42 L183.03,232.77 L183.94,233.14 L184.83,233.54 L185.72,233.95 L186.60,234.39 L187.48,234.85 L188.34,235.32 L189.20,235.82 L190.05,236.33 L190.88,236.87 L191.71,237.42 L192.54,237.98 L193.35,238.57 L194.16,239.17 L194.96,239.78 L195.75,240.41 L196.53,241.06 L197.30,241.71 L198.07,242.39 L198.82,243.07 L199.57,243.77 L200.32,244.48 L201.05,245.20 L201.78,245.93 L202.50,246.68 L203.21,247.43 L203.91,248.19 L204.61,248.96 L205.30,249.74 L205.98,250.53 L206.65,251.33 L207.32,252.13 L207.98,252.94 L208.63,253.75 L209.28,254.57 L209.91,255.40 L210.54,256.23 L211.17,257.06 L211.78,257.90 L212.39,258.74 L213.00,259.58 L213.59,260.43 L214.18,261.27 L214.76,262.12 L215.34,262.97 L215.91,263.81 L216.47,264.66 L217.02,265.51 L217.57,266.36 L218.12,267.21 L218.66,268.06 L219.19,268.91 L219.72,269.76 L220.24,270.61 L220.76,271.47 L221.28,272.32 L221.79,273.17 L222.29,274.03 L222.79,274.88 L223.29,275.74 L223.79,276.59 L224.28,277.45 L224.77,278.31 L225.25,279.17 L225.74,280.03 L226.22,280.89 L226.70,281.75 L227.17,282.61 L227.65,283.47 L228.12,284.34 L228.59,285.20 L229.06,286.07 L229.53,286.93 L230.00,287.80" fill="none" stroke="#d9413d" stroke-width="1.9" stroke-linejoin="round"/>
<circle cx="93.8" cy="350.6" r="2.4" fill="#d9413d"/>
<circle cx="93.8" cy="348.2" r="2.4" fill="#d9413d"/>
<circle cx="93.9" cy="345.8" r="2.4" fill="#d9413d"/>
<circle cx="94.0" cy="343.4" r="2.4" fill="#d9413d"/>
<circle cx="94.0" cy="341.0" r="2.4" fill="#d9413d"/>
<circle cx="94.0" cy="338.6" r="2.4" fill="#d9413d"/>
<circle cx="94.1" cy="336.2" r="2.4" fill="#d9413d"/>
<circle cx="94.2" cy="333.8" r="2.4" fill="#d9413d"/>
<circle cx="94.3" cy="331.2" r="2.4" fill="#d9413d"/>
<circle cx="94.5" cy="328.2" r="2.4" fill="#d9413d"/>
<circle cx="94.9" cy="322.6" r="2.5" fill="#d9413d"/>
<circle cx="96.5" cy="315.9" r="2.5" fill="#d9413d"/>
<circle cx="98.4" cy="308.1" r="2.5" fill="#d9413d"/>
<circle cx="100.6" cy="298.5" r="2.5" fill="#d9413d"/>
<circle cx="104.1" cy="286.8" r="2.5" fill="#d9413d"/>
<circle cx="109.4" cy="274.3" r="2.5" fill="#d9413d"/>
<circle cx="116.6" cy="260.8" r="2.5" fill="#d9413d"/>
<circle cx="126.7" cy="247.6" r="2.5" fill="#d9413d"/>
<circle cx="139.0" cy="237.1" r="2.5" fill="#d9413d"/>
<circle cx="153.4" cy="230.5" r="2.5" fill="#d9413d"/>
<circle cx="168.5" cy="229.1" r="2.5" fill="#d9413d"/>
<circle cx="183.1" cy="233.1" r="2.5" fill="#d9413d"/>
<circle cx="195.8" cy="240.8" r="2.5" fill="#d9413d"/>
<circle cx="206.3" cy="251.2" r="2.5" fill="#d9413d"/>
<circle cx="214.7" cy="261.9" r="2.5" fill="#d9413d"/>
<circle cx="220.8" cy="271.9" r="2.5" fill="#d9413d"/>
<circle cx="226.4" cy="280.4" r="2.5" fill="#d9413d"/>
<circle cx="230.0" cy="287.8" r="2.5" fill="#d9413d"/>
<path d="M128.2,284.5 L133,284.5 L134.5,280.5 L136.5,288.5 L138.5,280.5 L140.5,288.5 L142.5,280.5 L144.5,288.5 L146.5,280.5 L148.3,284.5 L153.4,284.5" stroke="#222" stroke-width="1.1" fill="none"/>
<path d="M170.8,274.3 L153.4,274.3 L153.4,295 L159.2,295 L160.6,291 L162.6,298.5 L164.6,291 L166.6,298.5 L168.6,291 L170.6,298.5 L172,295 L178.5,295" stroke="#222" stroke-width="1.1" fill="none"/>
<path d="M175.2,274.3 L192.2,274.3 L192.2,295 L187.6,295" stroke="#222" stroke-width="1.1" fill="none"/>
<path d="M192.2,284.5 L201.4,284.5" stroke="#222" stroke-width="1.1" fill="none"/>
<line x1="170.8" y1="269.5" x2="170.8" y2="279.5" stroke="#222" stroke-width="1.4"/>
<line x1="175.2" y1="269.5" x2="175.2" y2="279.5" stroke="#222" stroke-width="1.4"/>
<rect x="178.5" y="293" width="9" height="4.6" fill="#d8cfc4" stroke="#333" stroke-width="0.9"/>
<text x="136.1" y="274.9" font-size="8" fill="#000" font-family="Liberation Serif, serif" stroke="#000" stroke-width="0.25">R<tspan font-size="6">s</tspan></text>
<text x="167.6" y="266.7" font-size="8" fill="#000" font-family="Liberation Serif, serif" stroke="#000" stroke-width="0.25">C<tspan font-size="6">dl</tspan></text>
<text x="162.7" y="307.5" font-size="8" fill="#000" font-family="Liberation Serif, serif" stroke="#000" stroke-width="0.25">R<tspan font-size="6">ct</tspan></text>
<text x="180.6" y="307.3" font-size="7.6" fill="#000" font-family="Liberation Serif, serif" stroke="#000" stroke-width="0.25">W</text>
<line x1="209.5" y1="309.2" x2="229.5" y2="309.2" stroke="#000" stroke-width="2"/>
<line x1="209.5" y1="326.8" x2="229.5" y2="326.8" stroke="#c8202a" stroke-width="2"/>
<text x="235.4" y="312.5" font-size="9.4" font-family="Liberation Sans, sans-serif" font-weight="bold" stroke="currentColor" stroke-width="0.12">activated</text>
<text x="235.4" y="330.1" font-size="9.4" fill="#d40012" color="#d40012" font-family="Liberation Sans, sans-serif" font-weight="bold" stroke="currentColor" stroke-width="0.12">as-printed</text>
<line x1="313.2" y1="352.6" x2="536.7" y2="352.6" stroke="#000" stroke-width="1.8"/>
<line x1="314.1" y1="352.6" x2="314.1" y2="356.1" stroke="#000" stroke-width="1.6"/>
<line x1="351.1" y1="352.6" x2="351.1" y2="356.1" stroke="#000" stroke-width="1.6"/>
<line x1="388.0" y1="352.6" x2="388.0" y2="356.1" stroke="#000" stroke-width="1.6"/>
<line x1="425.0" y1="352.6" x2="425.0" y2="356.1" stroke="#000" stroke-width="1.6"/>
<line x1="461.9" y1="352.6" x2="461.9" y2="356.1" stroke="#000" stroke-width="1.6"/>
<line x1="498.9" y1="352.6" x2="498.9" y2="356.1" stroke="#000" stroke-width="1.6"/>
<line x1="535.8" y1="352.6" x2="535.8" y2="356.1" stroke="#000" stroke-width="1.6"/>
<text x="314.1" y="370.9" font-size="12" text-anchor="middle" font-family="Liberation Sans, sans-serif" font-weight="bold" stroke="currentColor" stroke-width="0.12">-2.2</text>
<text x="351.1" y="370.9" font-size="12" text-anchor="middle" font-family="Liberation Sans, sans-serif" font-weight="bold" stroke="currentColor" stroke-width="0.12">-1.4</text>
<text x="388.0" y="370.9" font-size="12" text-anchor="middle" font-family="Liberation Sans, sans-serif" font-weight="bold" stroke="currentColor" stroke-width="0.12">-0.6</text>
<text x="425.0" y="370.9" font-size="12" text-anchor="middle" font-family="Liberation Sans, sans-serif" font-weight="bold" stroke="currentColor" stroke-width="0.12">0.2</text>
<text x="461.9" y="370.9" font-size="12" text-anchor="middle" font-family="Liberation Sans, sans-serif" font-weight="bold" stroke="currentColor" stroke-width="0.12">1</text>
<text x="498.9" y="370.9" font-size="12" text-anchor="middle" font-family="Liberation Sans, sans-serif" font-weight="bold" stroke="currentColor" stroke-width="0.12">1.8</text>
<text x="535.8" y="370.9" font-size="12" text-anchor="middle" font-family="Liberation Sans, sans-serif" font-weight="bold" stroke="currentColor" stroke-width="0.12">2.6</text>
<text x="424" y="391.4" font-size="12" text-anchor="middle" font-family="Liberation Sans, sans-serif" font-weight="bold" stroke="currentColor" stroke-width="0.12">Potential (V)</text>
<text x="306.0" y="220.6" font-size="14" text-anchor="middle" font-family="Liberation Sans, sans-serif" font-weight="bold" stroke="currentColor" stroke-width="0.12">(D)</text>
<line x1="323.7" y1="237.4" x2="323.7" y2="262.8" stroke="#000" stroke-width="1.8"/>
<path d="M323.7,232.5 L320.8,237.9 L326.6,237.9 Z" fill="#000"/>
<path d="M323.7,267.7 L320.8,262.3 L326.6,262.3 Z" fill="#000"/>
<text x="329.8" y="253.7" font-size="11.9" font-family="Liberation Sans, sans-serif" font-weight="bold" stroke="currentColor" stroke-width="0.12">500 µA</text>
<path d="M314.30,317.30 L315.18,316.78 L316.06,316.28 L316.95,315.78 L317.85,315.30 L318.74,314.83 L319.64,314.37 L320.55,313.92 L321.45,313.49 L322.37,313.06 L323.28,312.65 L324.20,312.24 L325.12,311.85 L326.04,311.46 L326.97,311.08 L327.90,310.72 L328.84,310.36 L329.77,310.01 L330.71,309.67 L331.65,309.34 L332.60,309.01 L333.55,308.70 L334.50,308.39 L335.45,308.08 L336.40,307.79 L337.36,307.50 L338.32,307.22 L339.28,306.94 L340.24,306.67 L341.20,306.41 L342.17,306.15 L343.14,305.90 L344.11,305.65 L345.08,305.41 L346.05,305.17 L347.02,304.93 L348.00,304.70 L348.97,304.47 L349.95,304.25 L350.93,304.03 L351.91,303.81 L352.88,303.59 L353.86,303.38 L354.85,303.17 L355.83,302.96 L356.81,302.76 L357.79,302.55 L358.77,302.35 L359.75,302.14 L360.74,301.94 L361.72,301.74 L362.70,301.54 L363.69,301.35 L364.67,301.15 L365.66,300.96 L366.64,300.76 L367.62,300.57 L368.61,300.38 L369.60,300.19 L370.58,300.01 L371.57,299.82 L372.55,299.64 L373.54,299.46 L374.53,299.27 L375.51,299.10 L376.50,298.92 L377.49,298.74 L378.48,298.57 L379.46,298.39 L380.45,298.22 L381.44,298.05 L382.43,297.89 L383.42,297.72 L384.41,297.55 L385.40,297.39 L386.39,297.23 L387.38,297.07 L388.37,296.91 L389.36,296.76 L390.35,296.60 L391.34,296.45 L392.34,296.30 L393.33,296.15 L394.32,296.01 L395.31,295.86 L396.31,295.72 L397.30,295.58 L398.29,295.44 L399.29,295.30 L400.28,295.17 L401.27,295.03 L402.27,294.90 L403.26,294.77 L404.26,294.64 L405.25,294.52 L406.25,294.39 L407.24,294.27 L408.24,294.15 L409.24,294.04 L410.23,293.92 L411.23,293.81 L412.23,293.70 L413.22,293.59 L414.22,293.48 L415.22,293.38 L416.22,293.27 L417.21,293.17 L418.21,293.07 L419.21,292.98 L420.21,292.89 L421.21,292.79 L422.21,292.70 L423.21,292.62 L424.21,292.53 L425.21,292.45 L426.21,292.36 L427.21,292.28 L428.21,292.20 L429.21,292.13 L430.21,292.05 L431.21,291.97 L432.21,291.90 L433.21,291.83 L434.21,291.76 L435.21,291.69 L436.22,291.62 L437.22,291.55 L438.22,291.48 L439.22,291.42 L440.22,291.35 L441.22,291.29 L442.23,291.22 L443.23,291.16 L444.23,291.09 L445.23,291.03 L446.23,290.97 L447.24,290.91 L448.24,290.84 L449.24,290.78 L450.24,290.72 L451.24,290.66 L452.24,290.59 L453.25,290.53 L454.25,290.47 L455.25,290.40 L456.25,290.34 L457.25,290.28 L458.25,290.21 L459.25,290.14 L460.25,290.08 L461.26,290.01 L462.26,289.94 L463.26,289.87 L464.26,289.81 L465.26,289.73 L466.26,289.66 L467.26,289.59 L468.26,289.51 L469.26,289.44 L470.25,289.36 L471.25,289.28 L472.25,289.20 L473.25,289.12 L474.25,289.04 L475.25,288.95 L476.24,288.86 L477.24,288.78 L478.24,288.68 L479.24,288.59 L480.23,288.50 L481.23,288.40 L482.22,288.30 L483.22,288.20 L484.21,288.09 L485.21,287.99 L486.20,287.88 L487.20,287.76 L488.19,287.65 L489.18,287.53 L490.17,287.40 L491.16,287.27 L492.15,287.12 L493.13,286.97 L494.11,286.81 L495.09,286.64 L496.06,286.46 L497.03,286.26 L498.00,286.05 L498.96,285.83 L499.92,285.59 L500.87,285.33 L501.81,285.05 L502.75,284.76 L503.68,284.44 L504.61,284.11 L505.53,283.75 L506.44,283.37 L507.34,282.97 L508.23,282.54 L509.12,282.08 L510.01,281.60 L510.89,281.10 L511.77,280.58 L512.66,280.03 L513.55,279.46 L514.45,278.87 L515.37,278.26 L516.29,277.63 L517.24,276.99 L518.20,276.32 L519.19,275.64 L520.20,274.94 L521.23,274.23 L522.27,273.51 L523.31,272.79 L524.32,272.09 L525.30,271.40 L526.23,270.73 L527.11,270.09 L527.91,269.49 L528.62,268.93 L529.23,268.43 L529.72,267.99 L530.09,267.61 L530.31,267.31 L530.38,267.09 L530.28,266.96 L530.01,266.92 L529.58,266.95 L529.02,267.07 L528.33,267.25 L527.53,267.48 L526.64,267.77 L525.67,268.11 L524.64,268.48 L523.56,268.87 L522.44,269.29 L521.31,269.73 L520.17,270.17 L519.04,270.60 L517.93,271.04 L516.84,271.47 L515.75,271.89 L514.69,272.30 L513.63,272.69 L512.59,273.08 L511.56,273.45 L510.54,273.80 L509.54,274.13 L508.55,274.45 L507.57,274.74 L506.60,275.00 L505.65,275.24 L504.70,275.46 L503.76,275.66 L502.82,275.83 L501.89,275.98 L500.96,276.11 L500.03,276.23 L499.09,276.32 L498.16,276.39 L497.21,276.45 L496.26,276.49 L495.30,276.51 L494.33,276.52 L493.35,276.51 L492.37,276.49 L491.38,276.46 L490.39,276.42 L489.39,276.37 L488.38,276.32 L487.37,276.26 L486.35,276.19 L485.34,276.12 L484.32,276.05 L483.29,275.98 L482.27,275.91 L481.24,275.84 L480.21,275.78 L479.18,275.71 L478.16,275.66 L477.13,275.61 L476.10,275.57 L475.08,275.54 L474.05,275.53 L473.03,275.52 L472.01,275.53 L471.00,275.55 L469.99,275.59 L468.98,275.65 L467.98,275.72 L466.99,275.81 L465.99,275.92 L465.01,276.04 L464.02,276.18 L463.04,276.34 L462.07,276.51 L461.09,276.70 L460.12,276.89 L459.16,277.11 L458.20,277.33 L457.24,277.57 L456.28,277.82 L455.33,278.09 L454.38,278.36 L453.43,278.65 L452.49,278.94 L451.55,279.25 L450.61,279.57 L449.67,279.90 L448.74,280.23 L447.80,280.58 L446.87,280.93 L445.94,281.29 L445.02,281.66 L444.09,282.03 L443.17,282.42 L442.25,282.80 L441.33,283.20 L440.41,283.60 L439.49,284.00 L438.57,284.41 L437.65,284.82 L436.74,285.24 L435.82,285.66 L434.91,286.08 L434.00,286.51 L433.08,286.94 L432.17,287.36 L431.25,287.79 L430.34,288.23 L429.43,288.66 L428.51,289.09 L427.60,289.52 L426.69,289.95 L425.77,290.38 L424.85,290.81 L423.94,291.23 L423.02,291.65 L422.10,292.07 L421.18,292.49 L420.26,292.90 L419.34,293.31 L418.41,293.71 L417.49,294.11 L416.56,294.50 L415.63,294.89 L414.70,295.28 L413.77,295.65 L412.84,296.03 L411.90,296.40 L410.97,296.76 L410.03,297.12 L409.09,297.47 L408.15,297.82 L407.21,298.16 L406.26,298.50 L405.32,298.83 L404.37,299.16 L403.42,299.48 L402.47,299.80 L401.52,300.11 L400.57,300.42 L399.62,300.72 L398.66,301.02 L397.70,301.32 L396.75,301.61 L395.79,301.89 L394.83,302.17 L393.87,302.44 L392.90,302.71 L391.94,302.98 L390.97,303.23 L390.01,303.49 L389.04,303.74 L388.07,303.98 L387.10,304.22 L386.13,304.46 L385.16,304.69 L384.18,304.92 L383.21,305.14 L382.23,305.35 L381.26,305.57 L380.28,305.77 L379.30,305.98 L378.32,306.17 L377.34,306.37 L376.36,306.55 L375.37,306.74 L374.39,306.92 L373.41,307.09 L372.42,307.26 L371.43,307.43 L370.44,307.59 L369.46,307.74 L368.47,307.89 L367.48,308.04 L366.48,308.18 L365.49,308.32 L364.50,308.45 L363.50,308.58 L362.51,308.70 L361.51,308.82 L360.52,308.94 L359.52,309.05 L358.52,309.15 L357.52,309.26 L356.53,309.35 L355.53,309.45 L354.53,309.54 L353.53,309.64 L352.52,309.73 L351.52,309.82 L350.52,309.90 L349.52,309.99 L348.52,310.08 L347.52,310.17 L346.52,310.27 L345.52,310.36 L344.52,310.46 L343.53,310.56 L342.53,310.66 L341.53,310.77 L340.54,310.88 L339.54,310.99 L338.55,311.12 L337.55,311.24 L336.56,311.38 L335.57,311.52 L334.58,311.67 L333.60,311.82 L332.61,311.99 L331.63,312.16 L330.64,312.34 L329.66,312.53 L328.69,312.73 L327.71,312.94 L326.73,313.17 L325.76,313.40 L324.79,313.65 L323.83,313.91 L322.86,314.18 L321.90,314.47 L320.94,314.77 L319.98,315.08 L319.03,315.41 L318.07,315.76 L317.13,316.12 L316.18,316.49 L315.24,316.89 L314.30,317.30" fill="none" stroke="#d9413d" stroke-width="1.7" stroke-linejoin="round"/>
<path d="M314.20,350.60 L314.21,349.56 L314.43,348.64 L314.83,347.83 L315.36,347.10 L315.98,346.41 L316.66,345.76 L317.36,345.11 L318.08,344.46 L318.80,343.80 L319.54,343.15 L320.28,342.50 L321.04,341.84 L321.80,341.19 L322.57,340.54 L323.35,339.90 L324.13,339.25 L324.92,338.62 L325.71,337.98 L326.50,337.35 L327.30,336.72 L328.10,336.10 L328.91,335.49 L329.71,334.88 L330.52,334.27 L331.34,333.67 L332.15,333.08 L332.97,332.49 L333.79,331.90 L334.61,331.32 L335.44,330.74 L336.27,330.17 L337.10,329.60 L337.93,329.04 L338.77,328.48 L339.61,327.93 L340.45,327.38 L341.29,326.84 L342.14,326.30 L342.98,325.76 L343.84,325.23 L344.69,324.70 L345.54,324.18 L346.40,323.66 L347.26,323.15 L348.12,322.64 L348.99,322.14 L349.86,321.64 L350.73,321.14 L351.60,320.65 L352.47,320.16 L353.35,319.67 L354.22,319.19 L355.10,318.72 L355.98,318.24 L356.87,317.78 L357.75,317.31 L358.64,316.85 L359.53,316.39 L360.42,315.94 L361.32,315.49 L362.21,315.04 L363.11,314.60 L364.01,314.16 L364.91,313.73 L365.81,313.30 L366.72,312.87 L367.62,312.44 L368.53,312.02 L369.44,311.61 L370.35,311.19 L371.26,310.78 L372.18,310.37 L373.09,309.97 L374.01,309.57 L374.93,309.17 L375.85,308.77 L376.77,308.38 L377.69,307.99 L378.62,307.61 L379.54,307.22 L380.47,306.84 L381.40,306.47 L382.33,306.09 L383.26,305.72 L384.19,305.35 L385.12,304.99 L386.06,304.62 L387.00,304.26 L387.93,303.90 L388.87,303.55 L389.81,303.19 L390.75,302.84 L391.69,302.50 L392.63,302.15 L393.58,301.81 L394.52,301.46 L395.47,301.13 L396.41,300.79 L397.36,300.45 L398.31,300.12 L399.25,299.79 L400.20,299.46 L401.15,299.14 L402.10,298.81 L403.06,298.49 L404.01,298.17 L404.96,297.85 L405.91,297.53 L406.87,297.22 L407.82,296.91 L408.78,296.60 L409.73,296.29 L410.69,295.98 L411.65,295.67 L412.60,295.37 L413.56,295.06 L414.52,294.76 L415.48,294.46 L416.44,294.16 L417.39,293.86 L418.35,293.57 L419.31,293.27 L420.27,292.98 L421.23,292.68 L422.19,292.39 L423.15,292.10 L424.11,291.81 L425.07,291.52 L426.04,291.23 L427.00,290.95 L427.96,290.66 L428.92,290.38 L429.88,290.09 L430.84,289.81 L431.80,289.53 L432.76,289.24 L433.72,288.96 L434.68,288.68 L435.64,288.40 L436.60,288.13 L437.56,287.85 L438.52,287.58 L439.48,287.31 L440.45,287.04 L441.41,286.78 L442.37,286.52 L443.34,286.26 L444.30,286.01 L445.27,285.77 L446.24,285.52 L447.21,285.29 L448.18,285.06 L449.15,284.84 L450.13,284.62 L451.10,284.41 L452.08,284.21 L453.06,284.02 L454.04,283.83 L455.03,283.65 L456.01,283.48 L457.00,283.32 L458.00,283.17 L458.99,283.03 L459.99,282.90 L460.99,282.78 L461.99,282.66 L462.99,282.55 L463.99,282.44 L465.00,282.33 L466.00,282.23 L467.01,282.13 L468.02,282.03 L469.02,281.92 L470.03,281.82 L471.03,281.71 L472.04,281.59 L473.04,281.47 L474.04,281.34 L475.04,281.21 L476.04,281.06 L477.04,280.91 L478.03,280.74 L479.02,280.56 L480.01,280.37 L481.00,280.16 L481.98,279.94 L482.96,279.69 L483.93,279.43 L484.90,279.16 L485.86,278.86 L486.82,278.54 L487.77,278.19 L488.71,277.82 L489.65,277.43 L490.57,277.02 L491.47,276.57 L492.36,276.10 L493.24,275.60 L494.09,275.07 L494.93,274.51 L495.74,273.92 L496.54,273.30 L497.30,272.64 L498.05,271.95 L498.77,271.24 L499.47,270.50 L500.15,269.73 L500.80,268.95 L501.45,268.15 L502.07,267.34 L502.68,266.51 L503.27,265.68 L503.85,264.84 L504.42,264.00 L504.98,263.16 L505.52,262.32 L506.06,261.48 L506.59,260.66 L507.11,259.84 L507.63,259.04 L508.14,258.26 L508.64,257.49 L509.15,256.73 L509.65,255.99 L510.16,255.25 L510.66,254.52 L511.17,253.78 L511.68,253.04 L512.20,252.29 L512.73,251.53 L513.26,250.76 L513.81,249.96 L514.36,249.15 L514.93,248.31 L515.51,247.44 L516.10,246.54 L516.72,245.61 L517.35,244.64 L518.00,243.62 L518.66,242.56 L519.36,241.45 L520.07,240.29 L520.80,239.08 L521.54,237.84 L522.29,236.58 L523.04,235.29 L523.79,234.00 L524.53,232.70 L525.26,231.41 L525.98,230.13 L526.68,228.86 L527.35,227.63 L527.99,226.43 L528.60,225.28 L529.17,224.18 L529.70,223.14 L530.18,222.16 L530.60,221.26 L530.97,220.45 L531.27,219.72 L531.51,219.10 L531.68,218.58 L531.77,218.17 L531.78,217.89 L531.70,217.74 L531.54,217.73 L531.27,217.86 L530.91,218.14 L530.46,218.57 L529.93,219.13 L529.32,219.79 L528.66,220.54 L527.96,221.37 L527.22,222.24 L526.46,223.15 L525.69,224.07 L524.93,224.99 L524.18,225.89 L523.46,226.75 L522.77,227.57 L522.10,228.35 L521.45,229.11 L520.81,229.85 L520.19,230.58 L519.58,231.29 L518.97,232.00 L518.36,232.72 L517.75,233.44 L517.14,234.18 L516.52,234.95 L515.89,235.73 L515.24,236.53 L514.59,237.34 L513.92,238.16 L513.24,238.98 L512.55,239.80 L511.84,240.61 L511.13,241.40 L510.39,242.18 L509.65,242.94 L508.89,243.66 L508.11,244.36 L507.33,245.01 L506.52,245.62 L505.70,246.19 L504.87,246.70 L504.01,247.16 L503.15,247.56 L502.27,247.92 L501.37,248.23 L500.46,248.50 L499.54,248.73 L498.61,248.91 L497.67,249.06 L496.71,249.18 L495.75,249.27 L494.78,249.32 L493.80,249.35 L492.81,249.36 L491.81,249.34 L490.81,249.31 L489.80,249.26 L488.78,249.20 L487.76,249.12 L486.74,249.04 L485.71,248.95 L484.68,248.85 L483.65,248.75 L482.61,248.66 L481.58,248.57 L480.54,248.48 L479.51,248.40 L478.48,248.33 L477.45,248.28 L476.42,248.24 L475.39,248.21 L474.37,248.20 L473.36,248.21 L472.35,248.25 L471.35,248.30 L470.36,248.38 L469.38,248.49 L468.41,248.62 L467.45,248.79 L466.50,248.98 L465.57,249.22 L464.65,249.48 L463.74,249.79 L462.85,250.13 L461.98,250.51 L461.12,250.94 L460.28,251.40 L459.45,251.90 L458.64,252.43 L457.84,252.99 L457.06,253.58 L456.28,254.20 L455.52,254.84 L454.76,255.51 L454.01,256.19 L453.28,256.89 L452.55,257.61 L451.82,258.34 L451.11,259.08 L450.40,259.83 L449.69,260.59 L448.98,261.35 L448.28,262.11 L447.58,262.87 L446.88,263.63 L446.19,264.39 L445.49,265.15 L444.80,265.91 L444.11,266.67 L443.41,267.42 L442.73,268.18 L442.04,268.93 L441.35,269.69 L440.66,270.44 L439.98,271.19 L439.30,271.94 L438.61,272.69 L437.93,273.44 L437.25,274.19 L436.57,274.93 L435.89,275.68 L435.21,276.42 L434.53,277.16 L433.86,277.91 L433.18,278.65 L432.50,279.39 L431.82,280.12 L431.15,280.86 L430.47,281.60 L429.80,282.33 L429.12,283.06 L428.45,283.80 L427.77,284.53 L427.09,285.25 L426.42,285.98 L425.74,286.71 L425.07,287.43 L424.39,288.16 L423.71,288.88 L423.04,289.60 L422.36,290.32 L421.68,291.04 L421.00,291.76 L420.32,292.47 L419.64,293.19 L418.96,293.90 L418.28,294.61 L417.60,295.32 L416.92,296.03 L416.24,296.74 L415.55,297.46 L414.87,298.17 L414.19,298.88 L413.50,299.59 L412.82,300.30 L412.13,301.01 L411.45,301.73 L410.76,302.44 L410.08,303.16 L409.39,303.88 L408.71,304.60 L408.02,305.32 L407.33,306.04 L406.65,306.77 L405.96,307.50 L405.27,308.23 L404.58,308.96 L403.90,309.70 L403.21,310.44 L402.52,311.18 L401.83,311.93 L401.15,312.68 L400.46,313.44 L399.77,314.19 L399.08,314.96 L398.39,315.73 L397.71,316.50 L397.02,317.27 L396.33,318.06 L395.64,318.84 L394.96,319.63 L394.27,320.42 L393.57,321.21 L392.88,321.99 L392.18,322.76 L391.47,323.52 L390.76,324.27 L390.04,325.00 L389.31,325.71 L388.57,326.40 L387.82,327.07 L387.06,327.71 L386.28,328.31 L385.49,328.89 L384.69,329.42 L383.87,329.92 L383.04,330.38 L382.19,330.80 L381.32,331.16 L380.43,331.48 L379.52,331.74 L378.59,331.96 L377.64,332.13 L376.68,332.26 L375.70,332.35 L374.71,332.41 L373.71,332.45 L372.70,332.46 L371.68,332.45 L370.66,332.44 L369.63,332.41 L368.60,332.39 L367.57,332.36 L366.54,332.34 L365.52,332.33 L364.50,332.34 L363.49,332.37 L362.48,332.42 L361.48,332.49 L360.49,332.58 L359.50,332.68 L358.52,332.81 L357.54,332.95 L356.57,333.10 L355.60,333.27 L354.63,333.46 L353.67,333.66 L352.71,333.87 L351.76,334.10 L350.81,334.33 L349.86,334.58 L348.91,334.83 L347.96,335.10 L347.02,335.37 L346.07,335.66 L345.13,335.95 L344.18,336.24 L343.24,336.54 L342.29,336.85 L341.35,337.15 L340.40,337.47 L339.46,337.78 L338.51,338.10 L337.55,338.41 L336.60,338.73 L335.64,339.05 L334.68,339.36 L333.72,339.68 L332.75,339.99 L331.78,340.30 L330.81,340.61 L329.84,340.91 L328.86,341.22 L327.89,341.53 L326.92,341.84 L325.95,342.15 L324.99,342.46 L324.02,342.77 L323.06,343.09 L322.11,343.41 L321.15,343.73 L320.21,344.05 L319.27,344.38 L318.34,344.72 L317.42,345.06 L316.50,345.40" fill="none" stroke="#0a0a0a" stroke-width="1.9" stroke-linejoin="round"/>
<line x1="442.4" y1="311.3" x2="462.4" y2="311.3" stroke="#000" stroke-width="2"/>
<line x1="442.4" y1="328.5" x2="462.4" y2="328.5" stroke="#c8202a" stroke-width="2"/>
<text x="468.2" y="314.6" font-size="9.25" font-family="Liberation Sans, sans-serif" font-weight="bold" stroke="currentColor" stroke-width="0.12">activated</text>
<text x="468.2" y="331.8" font-size="9.25" fill="#d40012" color="#d40012" font-family="Liberation Sans, sans-serif" font-weight="bold" stroke="currentColor" stroke-width="0.12">as-printed</text>
</svg>
</body></html>
